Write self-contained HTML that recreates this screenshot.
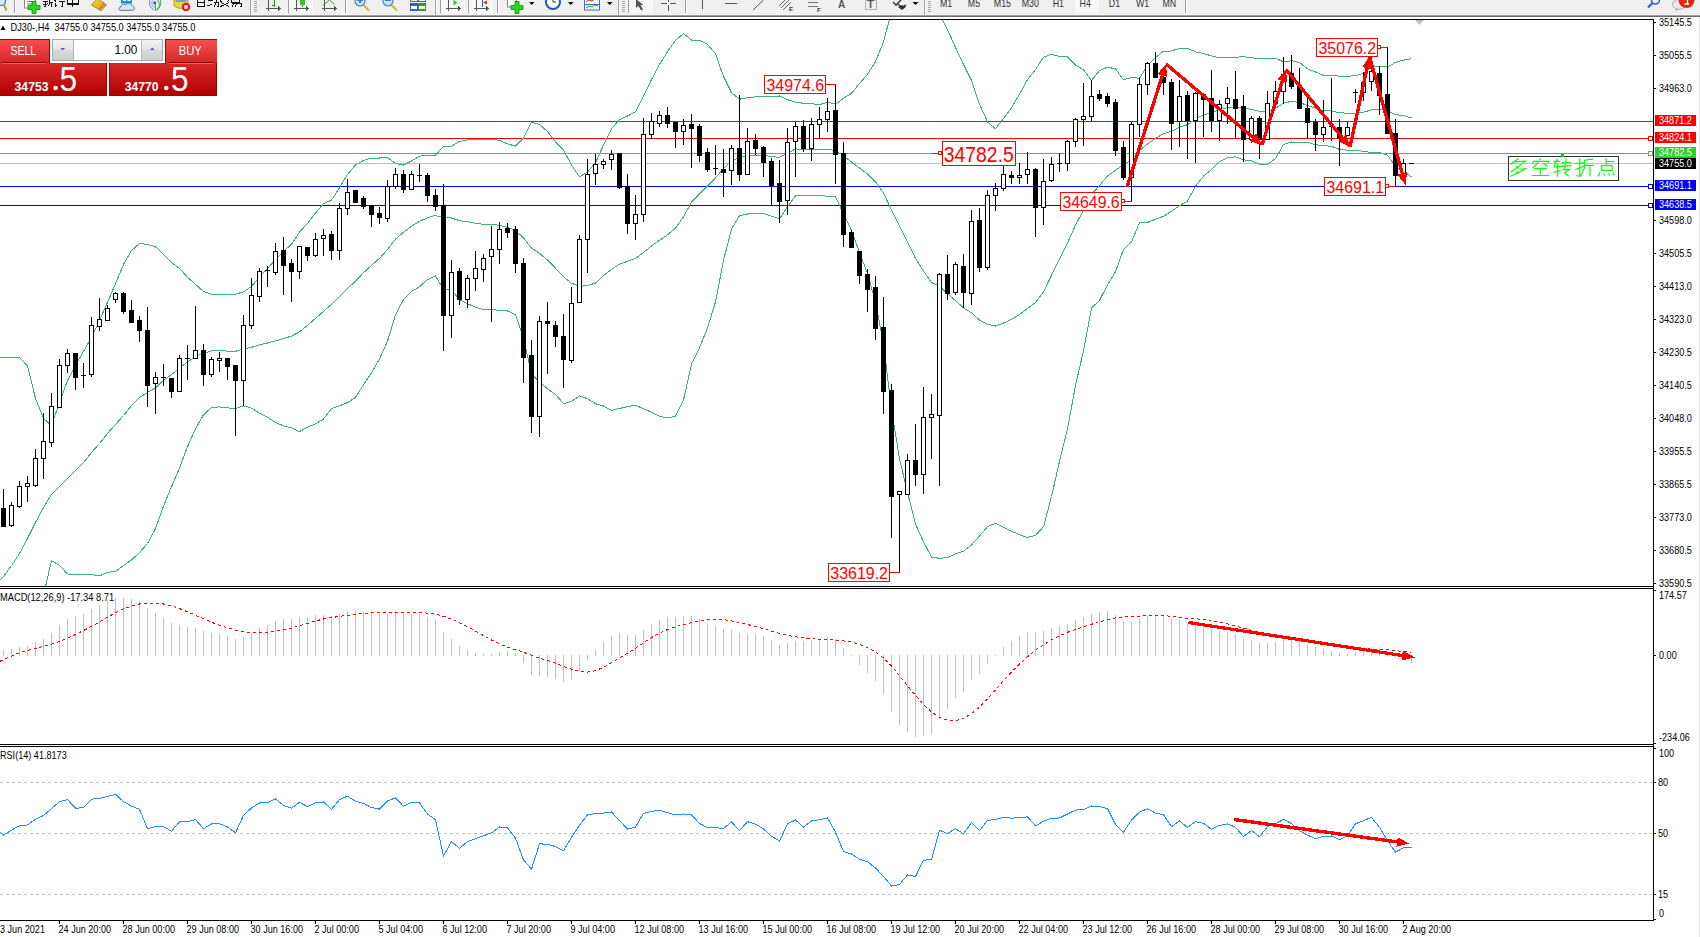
<!DOCTYPE html><html><head><meta charset="utf-8"><style>html,body{margin:0;padding:0;width:1700px;height:937px;overflow:hidden;background:#fff;}svg text{font-family:"Liberation Sans",sans-serif;}</style></head><body><svg width="1700" height="937" viewBox="0 0 1700 937" style="position:absolute;left:0;top:0" font-family="Liberation Sans, sans-serif">
<rect x="0" y="0" width="1700" height="937" fill="#ffffff"/>
<defs><clipPath id="cm"><rect x="0" y="20" width="1653" height="566"/></clipPath><clipPath id="cmacd"><rect x="0" y="589" width="1653" height="155"/></clipPath><clipPath id="crsi"><rect x="0" y="747" width="1653" height="173"/></clipPath></defs>
<g clip-path="url(#cm)" shape-rendering="crispEdges">
<rect x="0" y="121" width="1653" height="1" fill="#ff0000"/>
<rect x="0" y="138" width="1653" height="1" fill="#ff0000"/>
<rect x="0" y="153" width="1653" height="1" fill="#32cd32"/>
<rect x="0" y="163" width="1653" height="1" fill="#c0c0c0"/>
<rect x="0" y="186" width="1653" height="1" fill="#0000ff"/>
<rect x="0" y="205" width="1653" height="1" fill="#0000ff"/>
<polyline points="0.0,357.3 3.5,357.5 11.5,357.1 19.5,357.3 27.5,366.1 35.5,398.5 43.5,418.5 51.5,425.5 59.5,402.5 67.5,380.5 75.5,365.5 83.5,351.5 91.5,337.5 99.5,320.5 107.5,302.5 115.5,283.5 123.5,264.5 131.5,250.5 139.5,243.5 147.5,244.5 155.5,246.8 163.5,254.5 171.5,262.4 179.5,268.4 187.5,277.3 195.5,284.3 203.5,291.6 211.5,294.2 219.5,294.1 227.5,294.4 235.5,294.2 243.5,291.8 251.5,286.5 259.5,276.6 267.5,268.9 275.5,259.3 283.5,251.4 291.5,244.2 299.5,232.1 307.5,223.5 315.5,213.0 323.5,203.7 331.5,200.1 339.5,187.8 347.5,174.4 355.5,164.9 363.5,160.5 371.5,158.0 379.5,158.0 387.5,157.5 395.5,163.5 403.5,165.0 411.5,161.0 419.5,156.1 427.5,155.6 435.5,155.1 443.5,146.4 451.5,146.3 459.5,141.4 467.5,140.0 475.5,139.2 483.5,139.1 491.5,139.1 499.5,140.5 507.5,143.8 515.5,146.2 523.5,138.1 531.5,122.3 539.5,124.4 547.5,131.6 555.5,141.9 563.5,149.9 571.5,165.0 579.5,176.9 587.5,172.0 595.5,162.8 603.5,145.1 611.5,128.9 619.5,119.6 627.5,116.0 635.5,111.9 643.5,96.1 651.5,79.6 659.5,64.4 667.5,51.8 675.5,40.3 683.5,33.5 691.5,40.1 699.5,40.3 707.5,44.4 715.5,53.8 723.5,76.6 731.5,92.6 739.5,99.2 747.5,97.7 755.5,96.9 763.5,96.9 771.5,97.0 779.5,96.0 787.5,99.7 795.5,102.1 803.5,103.3 811.5,103.8 819.5,104.6 827.5,102.3 835.5,104.1 843.5,98.3 851.5,93.3 859.5,83.5 867.5,74.2 875.5,61.6 883.5,42.0 891.5,11.3 899.5,-6.6 907.5,-8.3 915.5,-7.5 923.5,0.4 931.5,8.0 939.5,14.1 947.5,29.8 955.5,47.5 963.5,64.5 971.5,80.5 979.5,104.1 987.5,121.9 995.5,128.8 1003.5,118.6 1011.5,107.8 1019.5,94.3 1027.5,79.6 1035.5,69.6 1043.5,57.2 1051.5,54.2 1059.5,56.5 1067.5,57.0 1075.5,65.0 1083.5,69.7 1091.5,80.5 1099.5,70.6 1107.5,67.1 1115.5,68.9 1123.5,79.8 1131.5,77.5 1139.5,78.3 1147.5,65.5 1155.5,57.6 1163.5,51.3 1171.5,51.0 1179.5,48.4 1187.5,48.4 1195.5,51.8 1203.5,53.7 1211.5,55.8 1219.5,57.8 1227.5,57.5 1235.5,57.3 1243.5,56.6 1251.5,57.8 1259.5,58.5 1267.5,58.5 1275.5,58.1 1283.5,62.0 1291.5,60.7 1299.5,62.5 1307.5,68.9 1315.5,72.0 1323.5,75.4 1331.5,75.3 1339.5,76.2 1347.5,76.1 1355.5,75.9 1363.5,73.1 1371.5,67.1 1379.5,66.2 1387.5,67.1 1395.5,62.3 1403.5,60.2 1411.5,58.7" fill="none" stroke="#3cb371" stroke-width="1"/>
<polyline points="0.0,580.0 3.5,576.5 11.5,565.5 19.5,553.5 27.5,538.5 35.5,522.5 43.5,507.5 51.5,494.5 59.5,486.5 67.5,478.5 75.5,470.5 83.5,462.5 91.5,452.5 99.5,443.5 107.5,433.5 115.5,424.5 123.5,415.5 131.5,405.5 139.5,397.5 147.5,392.5 155.5,387.8 163.5,380.3 171.5,374.6 179.5,368.2 187.5,361.9 195.5,356.6 203.5,353.2 211.5,350.9 219.5,350.5 227.5,351.1 235.5,351.3 243.5,348.8 251.5,347.3 259.5,344.9 267.5,343.0 275.5,340.9 283.5,338.6 291.5,336.1 299.5,331.9 307.5,325.4 315.5,318.4 323.5,311.4 331.5,304.3 339.5,296.8 347.5,288.5 355.5,281.1 363.5,272.7 371.5,265.4 379.5,258.4 387.5,249.4 395.5,239.1 403.5,232.3 411.5,226.2 419.5,221.4 427.5,217.7 435.5,215.4 443.5,217.9 451.5,218.0 459.5,220.7 467.5,221.8 475.5,223.2 483.5,224.4 491.5,224.3 499.5,225.4 507.5,227.4 515.5,230.4 523.5,238.0 531.5,248.1 539.5,253.3 547.5,260.1 555.5,268.2 563.5,276.8 571.5,283.2 579.5,286.4 587.5,285.4 595.5,283.2 603.5,275.6 611.5,269.6 619.5,264.1 627.5,261.3 635.5,258.6 643.5,252.4 651.5,246.0 659.5,240.3 667.5,234.8 675.5,228.2 683.5,216.7 691.5,202.2 699.5,193.9 707.5,186.2 715.5,177.8 723.5,168.5 731.5,160.8 739.5,157.5 747.5,155.8 755.5,155.1 763.5,155.1 771.5,156.7 779.5,157.3 787.5,153.3 795.5,148.9 803.5,149.6 811.5,149.8 819.5,149.9 827.5,149.3 835.5,150.5 843.5,155.9 851.5,161.9 859.5,167.9 867.5,173.9 875.5,181.9 883.5,192.8 891.5,210.2 899.5,226.1 907.5,242.1 915.5,258.4 923.5,271.1 931.5,282.6 939.5,286.2 947.5,293.8 955.5,300.6 963.5,307.9 971.5,312.7 979.5,320.1 987.5,324.3 995.5,326.0 1003.5,323.0 1011.5,319.5 1019.5,314.5 1027.5,308.5 1035.5,302.4 1043.5,291.9 1051.5,275.4 1059.5,258.9 1067.5,243.0 1075.5,225.2 1083.5,210.2 1091.5,194.3 1099.5,185.5 1107.5,176.0 1115.5,170.3 1123.5,164.6 1131.5,159.7 1139.5,150.6 1147.5,143.9 1155.5,138.4 1163.5,133.8 1171.5,131.1 1179.5,127.2 1187.5,124.7 1195.5,119.0 1203.5,114.9 1211.5,112.7 1219.5,109.8 1227.5,107.6 1235.5,107.0 1243.5,108.2 1251.5,109.3 1259.5,111.3 1267.5,111.3 1275.5,108.4 1283.5,103.2 1291.5,101.3 1299.5,102.5 1307.5,105.5 1315.5,108.3 1323.5,110.6 1331.5,110.8 1339.5,112.8 1347.5,113.2 1355.5,113.1 1363.5,112.2 1371.5,109.8 1379.5,109.3 1387.5,111.1 1395.5,114.5 1403.5,115.7 1411.5,117.9" fill="none" stroke="#3cb371" stroke-width="1"/>
<polyline points="43.5,595.5 51.5,560.5 59.5,565.5 67.5,574.0 75.5,574.5 83.5,574.5 91.5,574.5 99.5,575.9 107.5,572.5 115.5,571.5 123.5,565.5 131.5,560.0 139.5,552.5 147.5,543.5 155.5,528.7 163.5,506.1 171.5,486.8 179.5,468.0 187.5,446.6 195.5,428.8 203.5,414.8 211.5,407.5 219.5,406.9 227.5,407.9 235.5,408.4 243.5,405.8 251.5,408.1 259.5,413.2 267.5,417.1 275.5,422.5 283.5,425.8 291.5,427.9 299.5,431.6 307.5,427.2 315.5,423.9 323.5,419.0 331.5,408.5 339.5,405.8 347.5,402.6 355.5,397.3 363.5,384.9 371.5,372.9 379.5,358.8 387.5,341.3 395.5,314.7 403.5,299.6 411.5,291.5 419.5,286.8 427.5,279.8 435.5,275.8 443.5,289.5 451.5,289.7 459.5,299.9 467.5,303.6 475.5,307.3 483.5,309.7 491.5,309.6 499.5,310.3 507.5,311.0 515.5,314.7 523.5,337.9 531.5,373.9 539.5,382.2 547.5,388.7 555.5,394.6 563.5,403.6 571.5,401.4 579.5,395.9 587.5,398.7 595.5,403.7 603.5,406.0 611.5,410.4 619.5,408.5 627.5,406.6 635.5,405.3 643.5,408.7 651.5,412.4 659.5,416.2 667.5,417.9 675.5,416.2 683.5,399.8 691.5,364.4 699.5,347.6 707.5,328.1 715.5,301.9 723.5,260.4 731.5,228.9 739.5,215.8 747.5,214.0 755.5,213.2 763.5,213.3 771.5,216.3 779.5,218.7 787.5,206.9 795.5,195.7 803.5,195.9 811.5,195.7 819.5,195.3 827.5,196.4 835.5,196.9 843.5,213.6 851.5,230.5 859.5,252.3 867.5,273.6 875.5,302.2 883.5,343.7 891.5,409.2 899.5,458.8 907.5,492.4 915.5,524.2 923.5,541.8 931.5,557.1 939.5,558.3 947.5,557.7 955.5,553.8 963.5,551.2 971.5,544.9 979.5,536.1 987.5,526.7 995.5,523.2 1003.5,527.4 1011.5,531.2 1019.5,534.7 1027.5,537.4 1035.5,535.3 1043.5,526.7 1051.5,496.5 1059.5,461.4 1067.5,429.0 1075.5,385.5 1083.5,350.7 1091.5,308.1 1099.5,300.4 1107.5,284.9 1115.5,271.7 1123.5,249.3 1131.5,241.9 1139.5,222.8 1147.5,222.4 1155.5,219.2 1163.5,216.3 1171.5,211.2 1179.5,205.9 1187.5,201.0 1195.5,186.2 1203.5,176.1 1211.5,169.6 1219.5,161.7 1227.5,157.7 1235.5,156.8 1243.5,159.8 1251.5,160.8 1259.5,164.2 1267.5,164.2 1275.5,158.7 1283.5,144.5 1291.5,142.0 1299.5,142.6 1307.5,142.1 1315.5,144.7 1323.5,145.8 1331.5,146.2 1339.5,149.4 1347.5,150.2 1355.5,150.3 1363.5,151.4 1371.5,152.5 1379.5,152.5 1387.5,155.1 1395.5,166.6 1403.5,171.1 1411.5,177.1" fill="none" stroke="#3cb371" stroke-width="1"/>
<rect x="3" y="489" width="1" height="38" fill="#000"/>
<rect x="1" y="508" width="5" height="19" fill="#000"/>
<rect x="11" y="502" width="1" height="25" fill="#000"/>
<rect x="9" y="505" width="5" height="21" fill="#000"/>
<rect x="10" y="506" width="3" height="19" fill="#fff"/>
<rect x="19" y="481" width="1" height="27" fill="#000"/>
<rect x="17" y="486" width="5" height="21" fill="#000"/>
<rect x="18" y="487" width="3" height="19" fill="#fff"/>
<rect x="27" y="476" width="1" height="26" fill="#000"/>
<rect x="25" y="483" width="5" height="4" fill="#000"/>
<rect x="26" y="484" width="3" height="2" fill="#fff"/>
<rect x="35" y="449" width="1" height="38" fill="#000"/>
<rect x="33" y="458" width="5" height="28" fill="#000"/>
<rect x="34" y="459" width="3" height="26" fill="#fff"/>
<rect x="43" y="413" width="1" height="66" fill="#000"/>
<rect x="41" y="441" width="5" height="18" fill="#000"/>
<rect x="42" y="442" width="3" height="16" fill="#fff"/>
<rect x="51" y="393" width="1" height="54" fill="#000"/>
<rect x="49" y="406" width="5" height="37" fill="#000"/>
<rect x="50" y="407" width="3" height="35" fill="#fff"/>
<rect x="59" y="359" width="1" height="49" fill="#000"/>
<rect x="57" y="365" width="5" height="43" fill="#000"/>
<rect x="58" y="366" width="3" height="41" fill="#fff"/>
<rect x="67" y="349" width="1" height="24" fill="#000"/>
<rect x="65" y="353" width="5" height="13" fill="#000"/>
<rect x="66" y="354" width="3" height="11" fill="#fff"/>
<rect x="75" y="353" width="1" height="37" fill="#000"/>
<rect x="73" y="353" width="5" height="25" fill="#000"/>
<rect x="83" y="363" width="1" height="25" fill="#000"/>
<rect x="81" y="375" width="5" height="1" fill="#000"/>
<rect x="91" y="317" width="1" height="60" fill="#000"/>
<rect x="89" y="325" width="5" height="50" fill="#000"/>
<rect x="90" y="326" width="3" height="48" fill="#fff"/>
<rect x="99" y="298" width="1" height="33" fill="#000"/>
<rect x="97" y="319" width="5" height="8" fill="#000"/>
<rect x="98" y="320" width="3" height="6" fill="#fff"/>
<rect x="107" y="305" width="1" height="16" fill="#000"/>
<rect x="105" y="308" width="5" height="13" fill="#000"/>
<rect x="106" y="309" width="3" height="11" fill="#fff"/>
<rect x="115" y="292" width="1" height="11" fill="#000"/>
<rect x="113" y="293" width="5" height="7" fill="#000"/>
<rect x="114" y="294" width="3" height="5" fill="#fff"/>
<rect x="123" y="292" width="1" height="22" fill="#000"/>
<rect x="121" y="293" width="5" height="19" fill="#000"/>
<rect x="131" y="300" width="1" height="23" fill="#000"/>
<rect x="129" y="310" width="5" height="13" fill="#000"/>
<rect x="139" y="316" width="1" height="26" fill="#000"/>
<rect x="137" y="320" width="5" height="11" fill="#000"/>
<rect x="147" y="307" width="1" height="100" fill="#000"/>
<rect x="145" y="330" width="5" height="56" fill="#000"/>
<rect x="155" y="372" width="1" height="42" fill="#000"/>
<rect x="153" y="377" width="5" height="7" fill="#000"/>
<rect x="154" y="378" width="3" height="5" fill="#fff"/>
<rect x="163" y="364" width="1" height="22" fill="#000"/>
<rect x="161" y="377" width="5" height="1" fill="#000"/>
<rect x="171" y="378" width="1" height="20" fill="#000"/>
<rect x="169" y="378" width="5" height="14" fill="#000"/>
<rect x="179" y="355" width="1" height="37" fill="#000"/>
<rect x="177" y="358" width="5" height="34" fill="#000"/>
<rect x="178" y="359" width="3" height="32" fill="#fff"/>
<rect x="187" y="345" width="1" height="35" fill="#000"/>
<rect x="185" y="358" width="5" height="1" fill="#000"/>
<rect x="195" y="306" width="1" height="53" fill="#000"/>
<rect x="193" y="350" width="5" height="9" fill="#000"/>
<rect x="194" y="351" width="3" height="7" fill="#fff"/>
<rect x="203" y="344" width="1" height="42" fill="#000"/>
<rect x="201" y="350" width="5" height="25" fill="#000"/>
<rect x="211" y="357" width="1" height="20" fill="#000"/>
<rect x="209" y="359" width="5" height="16" fill="#000"/>
<rect x="210" y="360" width="3" height="14" fill="#fff"/>
<rect x="219" y="352" width="1" height="20" fill="#000"/>
<rect x="217" y="358" width="5" height="3" fill="#000"/>
<rect x="218" y="359" width="3" height="1" fill="#fff"/>
<rect x="227" y="358" width="1" height="22" fill="#000"/>
<rect x="225" y="358" width="5" height="9" fill="#000"/>
<rect x="235" y="365" width="1" height="71" fill="#000"/>
<rect x="233" y="365" width="5" height="16" fill="#000"/>
<rect x="243" y="315" width="1" height="91" fill="#000"/>
<rect x="241" y="325" width="5" height="56" fill="#000"/>
<rect x="242" y="326" width="3" height="54" fill="#fff"/>
<rect x="251" y="278" width="1" height="51" fill="#000"/>
<rect x="249" y="295" width="5" height="31" fill="#000"/>
<rect x="250" y="296" width="3" height="29" fill="#fff"/>
<rect x="259" y="268" width="1" height="34" fill="#000"/>
<rect x="257" y="271" width="5" height="26" fill="#000"/>
<rect x="258" y="272" width="3" height="24" fill="#fff"/>
<rect x="267" y="266" width="1" height="21" fill="#000"/>
<rect x="265" y="270" width="5" height="1" fill="#000"/>
<rect x="275" y="243" width="1" height="32" fill="#000"/>
<rect x="273" y="251" width="5" height="22" fill="#000"/>
<rect x="274" y="252" width="3" height="20" fill="#fff"/>
<rect x="283" y="237" width="1" height="58" fill="#000"/>
<rect x="281" y="250" width="5" height="16" fill="#000"/>
<rect x="291" y="259" width="1" height="43" fill="#000"/>
<rect x="289" y="263" width="5" height="9" fill="#000"/>
<rect x="299" y="246" width="1" height="33" fill="#000"/>
<rect x="297" y="246" width="5" height="26" fill="#000"/>
<rect x="298" y="247" width="3" height="24" fill="#fff"/>
<rect x="307" y="247" width="1" height="14" fill="#000"/>
<rect x="305" y="247" width="5" height="9" fill="#000"/>
<rect x="315" y="233" width="1" height="24" fill="#000"/>
<rect x="313" y="239" width="5" height="17" fill="#000"/>
<rect x="314" y="240" width="3" height="15" fill="#fff"/>
<rect x="323" y="229" width="1" height="27" fill="#000"/>
<rect x="321" y="235" width="5" height="4" fill="#000"/>
<rect x="322" y="236" width="3" height="2" fill="#fff"/>
<rect x="331" y="231" width="1" height="29" fill="#000"/>
<rect x="329" y="234" width="5" height="17" fill="#000"/>
<rect x="339" y="203" width="1" height="57" fill="#000"/>
<rect x="337" y="208" width="5" height="43" fill="#000"/>
<rect x="338" y="209" width="3" height="41" fill="#fff"/>
<rect x="347" y="179" width="1" height="36" fill="#000"/>
<rect x="345" y="192" width="5" height="17" fill="#000"/>
<rect x="346" y="193" width="3" height="15" fill="#fff"/>
<rect x="355" y="190" width="1" height="13" fill="#000"/>
<rect x="353" y="190" width="5" height="13" fill="#000"/>
<rect x="363" y="196" width="1" height="13" fill="#000"/>
<rect x="361" y="198" width="5" height="9" fill="#000"/>
<rect x="371" y="205" width="1" height="22" fill="#000"/>
<rect x="369" y="205" width="5" height="10" fill="#000"/>
<rect x="379" y="207" width="1" height="17" fill="#000"/>
<rect x="377" y="213" width="5" height="5" fill="#000"/>
<rect x="387" y="180" width="1" height="42" fill="#000"/>
<rect x="385" y="186" width="5" height="33" fill="#000"/>
<rect x="386" y="187" width="3" height="31" fill="#fff"/>
<rect x="395" y="168" width="1" height="21" fill="#000"/>
<rect x="393" y="174" width="5" height="13" fill="#000"/>
<rect x="394" y="175" width="3" height="11" fill="#fff"/>
<rect x="403" y="170" width="1" height="23" fill="#000"/>
<rect x="401" y="174" width="5" height="16" fill="#000"/>
<rect x="411" y="171" width="1" height="19" fill="#000"/>
<rect x="409" y="174" width="5" height="16" fill="#000"/>
<rect x="410" y="175" width="3" height="14" fill="#fff"/>
<rect x="419" y="164" width="1" height="18" fill="#000"/>
<rect x="417" y="175" width="5" height="1" fill="#000"/>
<rect x="427" y="173" width="1" height="29" fill="#000"/>
<rect x="425" y="175" width="5" height="21" fill="#000"/>
<rect x="435" y="189" width="1" height="22" fill="#000"/>
<rect x="433" y="195" width="5" height="12" fill="#000"/>
<rect x="443" y="184" width="1" height="167" fill="#000"/>
<rect x="441" y="205" width="5" height="111" fill="#000"/>
<rect x="451" y="260" width="1" height="78" fill="#000"/>
<rect x="449" y="272" width="5" height="44" fill="#000"/>
<rect x="450" y="273" width="3" height="42" fill="#fff"/>
<rect x="459" y="268" width="1" height="37" fill="#000"/>
<rect x="457" y="271" width="5" height="29" fill="#000"/>
<rect x="467" y="275" width="1" height="33" fill="#000"/>
<rect x="465" y="278" width="5" height="22" fill="#000"/>
<rect x="466" y="279" width="3" height="20" fill="#fff"/>
<rect x="475" y="251" width="1" height="40" fill="#000"/>
<rect x="473" y="268" width="5" height="11" fill="#000"/>
<rect x="474" y="269" width="3" height="9" fill="#fff"/>
<rect x="483" y="254" width="1" height="28" fill="#000"/>
<rect x="481" y="258" width="5" height="12" fill="#000"/>
<rect x="482" y="259" width="3" height="10" fill="#fff"/>
<rect x="491" y="226" width="1" height="96" fill="#000"/>
<rect x="489" y="249" width="5" height="8" fill="#000"/>
<rect x="490" y="250" width="3" height="6" fill="#fff"/>
<rect x="499" y="222" width="1" height="42" fill="#000"/>
<rect x="497" y="229" width="5" height="21" fill="#000"/>
<rect x="498" y="230" width="3" height="19" fill="#fff"/>
<rect x="507" y="223" width="1" height="15" fill="#000"/>
<rect x="505" y="228" width="5" height="5" fill="#000"/>
<rect x="515" y="226" width="1" height="47" fill="#000"/>
<rect x="513" y="229" width="5" height="35" fill="#000"/>
<rect x="523" y="258" width="1" height="125" fill="#000"/>
<rect x="521" y="263" width="5" height="95" fill="#000"/>
<rect x="531" y="340" width="1" height="93" fill="#000"/>
<rect x="529" y="355" width="5" height="62" fill="#000"/>
<rect x="539" y="316" width="1" height="121" fill="#000"/>
<rect x="537" y="321" width="5" height="96" fill="#000"/>
<rect x="538" y="322" width="3" height="94" fill="#fff"/>
<rect x="547" y="302" width="1" height="72" fill="#000"/>
<rect x="545" y="321" width="5" height="3" fill="#000"/>
<rect x="555" y="321" width="1" height="26" fill="#000"/>
<rect x="553" y="325" width="5" height="12" fill="#000"/>
<rect x="563" y="314" width="1" height="74" fill="#000"/>
<rect x="561" y="336" width="5" height="24" fill="#000"/>
<rect x="571" y="287" width="1" height="76" fill="#000"/>
<rect x="569" y="303" width="5" height="58" fill="#000"/>
<rect x="570" y="304" width="3" height="56" fill="#fff"/>
<rect x="579" y="235" width="1" height="68" fill="#000"/>
<rect x="577" y="239" width="5" height="64" fill="#000"/>
<rect x="578" y="240" width="3" height="62" fill="#fff"/>
<rect x="587" y="159" width="1" height="114" fill="#000"/>
<rect x="585" y="174" width="5" height="66" fill="#000"/>
<rect x="586" y="175" width="3" height="64" fill="#fff"/>
<rect x="595" y="154" width="1" height="31" fill="#000"/>
<rect x="593" y="164" width="5" height="10" fill="#000"/>
<rect x="594" y="165" width="3" height="8" fill="#fff"/>
<rect x="603" y="159" width="1" height="10" fill="#000"/>
<rect x="601" y="161" width="5" height="4" fill="#000"/>
<rect x="602" y="162" width="3" height="2" fill="#fff"/>
<rect x="611" y="150" width="1" height="20" fill="#000"/>
<rect x="609" y="154" width="5" height="6" fill="#000"/>
<rect x="610" y="155" width="3" height="4" fill="#fff"/>
<rect x="619" y="153" width="1" height="36" fill="#000"/>
<rect x="617" y="153" width="5" height="35" fill="#000"/>
<rect x="627" y="174" width="1" height="60" fill="#000"/>
<rect x="625" y="186" width="5" height="38" fill="#000"/>
<rect x="635" y="195" width="1" height="45" fill="#000"/>
<rect x="633" y="214" width="5" height="10" fill="#000"/>
<rect x="634" y="215" width="3" height="8" fill="#fff"/>
<rect x="643" y="118" width="1" height="104" fill="#000"/>
<rect x="641" y="134" width="5" height="81" fill="#000"/>
<rect x="642" y="135" width="3" height="79" fill="#fff"/>
<rect x="651" y="113" width="1" height="26" fill="#000"/>
<rect x="649" y="121" width="5" height="14" fill="#000"/>
<rect x="650" y="122" width="3" height="12" fill="#fff"/>
<rect x="659" y="111" width="1" height="16" fill="#000"/>
<rect x="657" y="115" width="5" height="9" fill="#000"/>
<rect x="658" y="116" width="3" height="7" fill="#fff"/>
<rect x="667" y="107" width="1" height="21" fill="#000"/>
<rect x="665" y="115" width="5" height="9" fill="#000"/>
<rect x="675" y="122" width="1" height="26" fill="#000"/>
<rect x="673" y="122" width="5" height="10" fill="#000"/>
<rect x="683" y="119" width="1" height="26" fill="#000"/>
<rect x="681" y="125" width="5" height="7" fill="#000"/>
<rect x="682" y="126" width="3" height="5" fill="#fff"/>
<rect x="691" y="114" width="1" height="54" fill="#000"/>
<rect x="689" y="124" width="5" height="5" fill="#000"/>
<rect x="699" y="124" width="1" height="38" fill="#000"/>
<rect x="697" y="126" width="5" height="30" fill="#000"/>
<rect x="707" y="148" width="1" height="24" fill="#000"/>
<rect x="705" y="152" width="5" height="18" fill="#000"/>
<rect x="715" y="145" width="1" height="30" fill="#000"/>
<rect x="713" y="168" width="5" height="1" fill="#000"/>
<rect x="723" y="149" width="1" height="48" fill="#000"/>
<rect x="721" y="169" width="5" height="4" fill="#000"/>
<rect x="731" y="145" width="1" height="40" fill="#000"/>
<rect x="729" y="148" width="5" height="23" fill="#000"/>
<rect x="730" y="149" width="3" height="21" fill="#fff"/>
<rect x="739" y="95" width="1" height="86" fill="#000"/>
<rect x="737" y="148" width="5" height="27" fill="#000"/>
<rect x="747" y="128" width="1" height="47" fill="#000"/>
<rect x="745" y="141" width="5" height="34" fill="#000"/>
<rect x="746" y="142" width="3" height="32" fill="#fff"/>
<rect x="755" y="134" width="1" height="21" fill="#000"/>
<rect x="753" y="140" width="5" height="9" fill="#000"/>
<rect x="763" y="146" width="1" height="31" fill="#000"/>
<rect x="761" y="147" width="5" height="16" fill="#000"/>
<rect x="771" y="158" width="1" height="48" fill="#000"/>
<rect x="769" y="161" width="5" height="25" fill="#000"/>
<rect x="779" y="160" width="1" height="63" fill="#000"/>
<rect x="777" y="183" width="5" height="19" fill="#000"/>
<rect x="787" y="128" width="1" height="87" fill="#000"/>
<rect x="785" y="142" width="5" height="59" fill="#000"/>
<rect x="786" y="143" width="3" height="57" fill="#fff"/>
<rect x="795" y="121" width="1" height="56" fill="#000"/>
<rect x="793" y="126" width="5" height="16" fill="#000"/>
<rect x="794" y="127" width="3" height="14" fill="#fff"/>
<rect x="803" y="120" width="1" height="32" fill="#000"/>
<rect x="801" y="126" width="5" height="23" fill="#000"/>
<rect x="811" y="118" width="1" height="43" fill="#000"/>
<rect x="809" y="124" width="5" height="25" fill="#000"/>
<rect x="810" y="125" width="3" height="23" fill="#fff"/>
<rect x="819" y="107" width="1" height="32" fill="#000"/>
<rect x="817" y="119" width="5" height="6" fill="#000"/>
<rect x="818" y="120" width="3" height="4" fill="#fff"/>
<rect x="827" y="98" width="1" height="34" fill="#000"/>
<rect x="825" y="111" width="5" height="9" fill="#000"/>
<rect x="826" y="112" width="3" height="7" fill="#fff"/>
<rect x="835" y="84" width="1" height="100" fill="#000"/>
<rect x="833" y="110" width="5" height="45" fill="#000"/>
<rect x="843" y="142" width="1" height="105" fill="#000"/>
<rect x="841" y="153" width="5" height="82" fill="#000"/>
<rect x="851" y="230" width="1" height="18" fill="#000"/>
<rect x="849" y="232" width="5" height="16" fill="#000"/>
<rect x="859" y="251" width="1" height="33" fill="#000"/>
<rect x="857" y="251" width="5" height="25" fill="#000"/>
<rect x="867" y="269" width="1" height="43" fill="#000"/>
<rect x="865" y="274" width="5" height="16" fill="#000"/>
<rect x="875" y="276" width="1" height="64" fill="#000"/>
<rect x="873" y="287" width="5" height="42" fill="#000"/>
<rect x="883" y="297" width="1" height="117" fill="#000"/>
<rect x="881" y="327" width="5" height="65" fill="#000"/>
<rect x="891" y="384" width="1" height="154" fill="#000"/>
<rect x="889" y="390" width="5" height="107" fill="#000"/>
<rect x="899" y="491" width="1" height="82" fill="#000"/>
<rect x="897" y="491" width="5" height="4" fill="#000"/>
<rect x="898" y="492" width="3" height="2" fill="#fff"/>
<rect x="907" y="454" width="1" height="41" fill="#000"/>
<rect x="905" y="460" width="5" height="35" fill="#000"/>
<rect x="906" y="461" width="3" height="33" fill="#fff"/>
<rect x="915" y="424" width="1" height="62" fill="#000"/>
<rect x="913" y="460" width="5" height="15" fill="#000"/>
<rect x="923" y="387" width="1" height="107" fill="#000"/>
<rect x="921" y="417" width="5" height="58" fill="#000"/>
<rect x="922" y="418" width="3" height="56" fill="#fff"/>
<rect x="931" y="394" width="1" height="65" fill="#000"/>
<rect x="929" y="414" width="5" height="4" fill="#000"/>
<rect x="930" y="415" width="3" height="2" fill="#fff"/>
<rect x="939" y="273" width="1" height="213" fill="#000"/>
<rect x="937" y="274" width="5" height="142" fill="#000"/>
<rect x="938" y="275" width="3" height="140" fill="#fff"/>
<rect x="947" y="255" width="1" height="45" fill="#000"/>
<rect x="945" y="274" width="5" height="20" fill="#000"/>
<rect x="955" y="262" width="1" height="33" fill="#000"/>
<rect x="953" y="264" width="5" height="29" fill="#000"/>
<rect x="954" y="265" width="3" height="27" fill="#fff"/>
<rect x="963" y="254" width="1" height="54" fill="#000"/>
<rect x="961" y="266" width="5" height="27" fill="#000"/>
<rect x="971" y="210" width="1" height="95" fill="#000"/>
<rect x="969" y="221" width="5" height="73" fill="#000"/>
<rect x="970" y="222" width="3" height="71" fill="#fff"/>
<rect x="979" y="208" width="1" height="64" fill="#000"/>
<rect x="977" y="220" width="5" height="48" fill="#000"/>
<rect x="987" y="190" width="1" height="80" fill="#000"/>
<rect x="985" y="195" width="5" height="73" fill="#000"/>
<rect x="986" y="196" width="3" height="71" fill="#fff"/>
<rect x="995" y="183" width="1" height="28" fill="#000"/>
<rect x="993" y="188" width="5" height="8" fill="#000"/>
<rect x="994" y="189" width="3" height="6" fill="#fff"/>
<rect x="1003" y="166" width="1" height="25" fill="#000"/>
<rect x="1001" y="174" width="5" height="15" fill="#000"/>
<rect x="1002" y="175" width="3" height="13" fill="#fff"/>
<rect x="1011" y="171" width="1" height="13" fill="#000"/>
<rect x="1009" y="175" width="5" height="3" fill="#000"/>
<rect x="1019" y="163" width="1" height="21" fill="#000"/>
<rect x="1017" y="175" width="5" height="3" fill="#000"/>
<rect x="1018" y="176" width="3" height="1" fill="#fff"/>
<rect x="1027" y="152" width="1" height="32" fill="#000"/>
<rect x="1025" y="169" width="5" height="6" fill="#000"/>
<rect x="1026" y="170" width="3" height="4" fill="#fff"/>
<rect x="1035" y="168" width="1" height="69" fill="#000"/>
<rect x="1033" y="169" width="5" height="39" fill="#000"/>
<rect x="1043" y="159" width="1" height="66" fill="#000"/>
<rect x="1041" y="181" width="5" height="27" fill="#000"/>
<rect x="1042" y="182" width="3" height="25" fill="#fff"/>
<rect x="1051" y="157" width="1" height="25" fill="#000"/>
<rect x="1049" y="164" width="5" height="17" fill="#000"/>
<rect x="1050" y="165" width="3" height="15" fill="#fff"/>
<rect x="1059" y="153" width="1" height="19" fill="#000"/>
<rect x="1057" y="163" width="5" height="1" fill="#000"/>
<rect x="1067" y="140" width="1" height="31" fill="#000"/>
<rect x="1065" y="141" width="5" height="23" fill="#000"/>
<rect x="1066" y="142" width="3" height="21" fill="#fff"/>
<rect x="1075" y="118" width="1" height="29" fill="#000"/>
<rect x="1073" y="119" width="5" height="23" fill="#000"/>
<rect x="1074" y="120" width="3" height="21" fill="#fff"/>
<rect x="1083" y="83" width="1" height="63" fill="#000"/>
<rect x="1081" y="116" width="5" height="4" fill="#000"/>
<rect x="1082" y="117" width="3" height="2" fill="#fff"/>
<rect x="1091" y="80" width="1" height="42" fill="#000"/>
<rect x="1089" y="96" width="5" height="21" fill="#000"/>
<rect x="1090" y="97" width="3" height="19" fill="#fff"/>
<rect x="1099" y="90" width="1" height="11" fill="#000"/>
<rect x="1097" y="94" width="5" height="5" fill="#000"/>
<rect x="1107" y="93" width="1" height="14" fill="#000"/>
<rect x="1105" y="96" width="5" height="8" fill="#000"/>
<rect x="1115" y="99" width="1" height="57" fill="#000"/>
<rect x="1113" y="102" width="5" height="49" fill="#000"/>
<rect x="1123" y="141" width="1" height="39" fill="#000"/>
<rect x="1121" y="147" width="5" height="31" fill="#000"/>
<rect x="1131" y="121" width="1" height="81" fill="#000"/>
<rect x="1129" y="124" width="5" height="54" fill="#000"/>
<rect x="1130" y="125" width="3" height="52" fill="#fff"/>
<rect x="1139" y="78" width="1" height="59" fill="#000"/>
<rect x="1137" y="84" width="5" height="41" fill="#000"/>
<rect x="1138" y="85" width="3" height="39" fill="#fff"/>
<rect x="1147" y="62" width="1" height="33" fill="#000"/>
<rect x="1145" y="63" width="5" height="22" fill="#000"/>
<rect x="1146" y="64" width="3" height="20" fill="#fff"/>
<rect x="1155" y="52" width="1" height="26" fill="#000"/>
<rect x="1153" y="63" width="5" height="15" fill="#000"/>
<rect x="1163" y="77" width="1" height="18" fill="#000"/>
<rect x="1161" y="77" width="5" height="6" fill="#000"/>
<rect x="1171" y="79" width="1" height="71" fill="#000"/>
<rect x="1169" y="82" width="5" height="42" fill="#000"/>
<rect x="1179" y="80" width="1" height="67" fill="#000"/>
<rect x="1177" y="96" width="5" height="26" fill="#000"/>
<rect x="1178" y="97" width="3" height="24" fill="#fff"/>
<rect x="1187" y="91" width="1" height="68" fill="#000"/>
<rect x="1185" y="95" width="5" height="26" fill="#000"/>
<rect x="1195" y="92" width="1" height="71" fill="#000"/>
<rect x="1193" y="93" width="5" height="28" fill="#000"/>
<rect x="1194" y="94" width="3" height="26" fill="#fff"/>
<rect x="1203" y="93" width="1" height="44" fill="#000"/>
<rect x="1201" y="94" width="5" height="6" fill="#000"/>
<rect x="1211" y="70" width="1" height="62" fill="#000"/>
<rect x="1209" y="98" width="5" height="23" fill="#000"/>
<rect x="1219" y="100" width="1" height="41" fill="#000"/>
<rect x="1217" y="104" width="5" height="17" fill="#000"/>
<rect x="1218" y="105" width="3" height="15" fill="#fff"/>
<rect x="1227" y="87" width="1" height="37" fill="#000"/>
<rect x="1225" y="98" width="5" height="6" fill="#000"/>
<rect x="1226" y="99" width="3" height="4" fill="#fff"/>
<rect x="1235" y="71" width="1" height="67" fill="#000"/>
<rect x="1233" y="99" width="5" height="10" fill="#000"/>
<rect x="1243" y="95" width="1" height="67" fill="#000"/>
<rect x="1241" y="106" width="5" height="34" fill="#000"/>
<rect x="1251" y="116" width="1" height="27" fill="#000"/>
<rect x="1249" y="118" width="5" height="22" fill="#000"/>
<rect x="1250" y="119" width="3" height="20" fill="#fff"/>
<rect x="1259" y="116" width="1" height="43" fill="#000"/>
<rect x="1257" y="118" width="5" height="22" fill="#000"/>
<rect x="1267" y="91" width="1" height="49" fill="#000"/>
<rect x="1265" y="103" width="5" height="37" fill="#000"/>
<rect x="1266" y="104" width="3" height="35" fill="#fff"/>
<rect x="1275" y="81" width="1" height="24" fill="#000"/>
<rect x="1273" y="91" width="5" height="13" fill="#000"/>
<rect x="1274" y="92" width="3" height="11" fill="#fff"/>
<rect x="1283" y="57" width="1" height="47" fill="#000"/>
<rect x="1281" y="74" width="5" height="18" fill="#000"/>
<rect x="1282" y="75" width="3" height="16" fill="#fff"/>
<rect x="1291" y="55" width="1" height="34" fill="#000"/>
<rect x="1289" y="73" width="5" height="14" fill="#000"/>
<rect x="1299" y="68" width="1" height="41" fill="#000"/>
<rect x="1297" y="85" width="5" height="24" fill="#000"/>
<rect x="1307" y="97" width="1" height="41" fill="#000"/>
<rect x="1305" y="108" width="5" height="15" fill="#000"/>
<rect x="1315" y="119" width="1" height="32" fill="#000"/>
<rect x="1313" y="122" width="5" height="13" fill="#000"/>
<rect x="1323" y="100" width="1" height="42" fill="#000"/>
<rect x="1321" y="127" width="5" height="8" fill="#000"/>
<rect x="1322" y="128" width="3" height="6" fill="#fff"/>
<rect x="1331" y="78" width="1" height="63" fill="#000"/>
<rect x="1329" y="126" width="5" height="1" fill="#000"/>
<rect x="1339" y="119" width="1" height="47" fill="#000"/>
<rect x="1337" y="127" width="5" height="11" fill="#000"/>
<rect x="1347" y="122" width="1" height="14" fill="#000"/>
<rect x="1345" y="127" width="5" height="9" fill="#000"/>
<rect x="1346" y="128" width="3" height="7" fill="#fff"/>
<rect x="1355" y="89" width="1" height="14" fill="#000"/>
<rect x="1353" y="92" width="5" height="1" fill="#000"/>
<rect x="1363" y="72" width="1" height="29" fill="#000"/>
<rect x="1361" y="82" width="5" height="11" fill="#000"/>
<rect x="1362" y="83" width="3" height="9" fill="#fff"/>
<rect x="1371" y="57" width="1" height="34" fill="#000"/>
<rect x="1369" y="71" width="5" height="11" fill="#000"/>
<rect x="1370" y="72" width="3" height="9" fill="#fff"/>
<rect x="1379" y="66" width="1" height="49" fill="#000"/>
<rect x="1377" y="73" width="5" height="23" fill="#000"/>
<rect x="1387" y="47" width="1" height="87" fill="#000"/>
<rect x="1385" y="94" width="5" height="40" fill="#000"/>
<rect x="1395" y="119" width="1" height="68" fill="#000"/>
<rect x="1393" y="133" width="5" height="43" fill="#000"/>
<rect x="1403" y="159" width="1" height="15" fill="#000"/>
<rect x="1401" y="163" width="5" height="11" fill="#000"/>
<rect x="1402" y="164" width="3" height="9" fill="#fff"/>
<rect x="1411" y="163" width="1" height="1" fill="#000"/>
<rect x="1409" y="163" width="5" height="1" fill="#000"/>
</g>
<g clip-path="url(#cmacd)" shape-rendering="crispEdges">
<rect x="3" y="650" width="1" height="6" fill="#c0c0c0"/>
<rect x="11" y="649" width="1" height="7" fill="#c0c0c0"/>
<rect x="19" y="647" width="1" height="9" fill="#c0c0c0"/>
<rect x="27" y="646" width="1" height="10" fill="#c0c0c0"/>
<rect x="35" y="642" width="1" height="14" fill="#c0c0c0"/>
<rect x="43" y="639" width="1" height="17" fill="#c0c0c0"/>
<rect x="51" y="633" width="1" height="23" fill="#c0c0c0"/>
<rect x="59" y="625" width="1" height="31" fill="#c0c0c0"/>
<rect x="67" y="619" width="1" height="37" fill="#c0c0c0"/>
<rect x="75" y="616" width="1" height="40" fill="#c0c0c0"/>
<rect x="83" y="614" width="1" height="42" fill="#c0c0c0"/>
<rect x="91" y="609" width="1" height="47" fill="#c0c0c0"/>
<rect x="99" y="605" width="1" height="51" fill="#c0c0c0"/>
<rect x="107" y="601" width="1" height="55" fill="#c0c0c0"/>
<rect x="115" y="598" width="1" height="58" fill="#c0c0c0"/>
<rect x="123" y="598" width="1" height="58" fill="#c0c0c0"/>
<rect x="131" y="599" width="1" height="57" fill="#c0c0c0"/>
<rect x="139" y="601" width="1" height="55" fill="#c0c0c0"/>
<rect x="147" y="608" width="1" height="48" fill="#c0c0c0"/>
<rect x="155" y="613" width="1" height="43" fill="#c0c0c0"/>
<rect x="163" y="618" width="1" height="38" fill="#c0c0c0"/>
<rect x="171" y="623" width="1" height="33" fill="#c0c0c0"/>
<rect x="179" y="625" width="1" height="31" fill="#c0c0c0"/>
<rect x="187" y="627" width="1" height="29" fill="#c0c0c0"/>
<rect x="195" y="628" width="1" height="28" fill="#c0c0c0"/>
<rect x="203" y="631" width="1" height="25" fill="#c0c0c0"/>
<rect x="211" y="633" width="1" height="23" fill="#c0c0c0"/>
<rect x="219" y="634" width="1" height="22" fill="#c0c0c0"/>
<rect x="227" y="636" width="1" height="20" fill="#c0c0c0"/>
<rect x="235" y="639" width="1" height="17" fill="#c0c0c0"/>
<rect x="243" y="637" width="1" height="19" fill="#c0c0c0"/>
<rect x="251" y="633" width="1" height="23" fill="#c0c0c0"/>
<rect x="259" y="628" width="1" height="28" fill="#c0c0c0"/>
<rect x="267" y="625" width="1" height="31" fill="#c0c0c0"/>
<rect x="275" y="621" width="1" height="35" fill="#c0c0c0"/>
<rect x="283" y="619" width="1" height="37" fill="#c0c0c0"/>
<rect x="291" y="619" width="1" height="37" fill="#c0c0c0"/>
<rect x="299" y="617" width="1" height="39" fill="#c0c0c0"/>
<rect x="307" y="617" width="1" height="39" fill="#c0c0c0"/>
<rect x="315" y="615" width="1" height="41" fill="#c0c0c0"/>
<rect x="323" y="615" width="1" height="41" fill="#c0c0c0"/>
<rect x="331" y="616" width="1" height="40" fill="#c0c0c0"/>
<rect x="339" y="614" width="1" height="42" fill="#c0c0c0"/>
<rect x="347" y="611" width="1" height="45" fill="#c0c0c0"/>
<rect x="355" y="611" width="1" height="45" fill="#c0c0c0"/>
<rect x="363" y="611" width="1" height="45" fill="#c0c0c0"/>
<rect x="371" y="612" width="1" height="44" fill="#c0c0c0"/>
<rect x="379" y="614" width="1" height="42" fill="#c0c0c0"/>
<rect x="387" y="614" width="1" height="42" fill="#c0c0c0"/>
<rect x="395" y="613" width="1" height="43" fill="#c0c0c0"/>
<rect x="403" y="614" width="1" height="42" fill="#c0c0c0"/>
<rect x="411" y="614" width="1" height="42" fill="#c0c0c0"/>
<rect x="419" y="614" width="1" height="42" fill="#c0c0c0"/>
<rect x="427" y="617" width="1" height="39" fill="#c0c0c0"/>
<rect x="435" y="620" width="1" height="36" fill="#c0c0c0"/>
<rect x="443" y="632" width="1" height="24" fill="#c0c0c0"/>
<rect x="451" y="639" width="1" height="17" fill="#c0c0c0"/>
<rect x="459" y="646" width="1" height="10" fill="#c0c0c0"/>
<rect x="467" y="650" width="1" height="6" fill="#c0c0c0"/>
<rect x="475" y="653" width="1" height="3" fill="#c0c0c0"/>
<rect x="483" y="654" width="1" height="2" fill="#c0c0c0"/>
<rect x="491" y="654" width="1" height="2" fill="#c0c0c0"/>
<rect x="499" y="652" width="1" height="4" fill="#c0c0c0"/>
<rect x="507" y="651" width="1" height="5" fill="#c0c0c0"/>
<rect x="515" y="653" width="1" height="3" fill="#c0c0c0"/>
<rect x="523" y="655" width="1" height="8" fill="#c0c0c0"/>
<rect x="531" y="655" width="1" height="20" fill="#c0c0c0"/>
<rect x="539" y="655" width="1" height="21" fill="#c0c0c0"/>
<rect x="547" y="655" width="1" height="22" fill="#c0c0c0"/>
<rect x="555" y="655" width="1" height="24" fill="#c0c0c0"/>
<rect x="563" y="655" width="1" height="27" fill="#c0c0c0"/>
<rect x="571" y="655" width="1" height="25" fill="#c0c0c0"/>
<rect x="579" y="655" width="1" height="16" fill="#c0c0c0"/>
<rect x="587" y="655" width="1" height="5" fill="#c0c0c0"/>
<rect x="595" y="650" width="1" height="6" fill="#c0c0c0"/>
<rect x="603" y="642" width="1" height="14" fill="#c0c0c0"/>
<rect x="611" y="636" width="1" height="20" fill="#c0c0c0"/>
<rect x="619" y="633" width="1" height="23" fill="#c0c0c0"/>
<rect x="627" y="635" width="1" height="21" fill="#c0c0c0"/>
<rect x="635" y="635" width="1" height="21" fill="#c0c0c0"/>
<rect x="643" y="630" width="1" height="26" fill="#c0c0c0"/>
<rect x="651" y="624" width="1" height="32" fill="#c0c0c0"/>
<rect x="659" y="620" width="1" height="36" fill="#c0c0c0"/>
<rect x="667" y="617" width="1" height="39" fill="#c0c0c0"/>
<rect x="675" y="617" width="1" height="39" fill="#c0c0c0"/>
<rect x="683" y="616" width="1" height="40" fill="#c0c0c0"/>
<rect x="691" y="616" width="1" height="40" fill="#c0c0c0"/>
<rect x="699" y="619" width="1" height="37" fill="#c0c0c0"/>
<rect x="707" y="623" width="1" height="33" fill="#c0c0c0"/>
<rect x="715" y="626" width="1" height="30" fill="#c0c0c0"/>
<rect x="723" y="629" width="1" height="27" fill="#c0c0c0"/>
<rect x="731" y="630" width="1" height="26" fill="#c0c0c0"/>
<rect x="739" y="633" width="1" height="23" fill="#c0c0c0"/>
<rect x="747" y="634" width="1" height="22" fill="#c0c0c0"/>
<rect x="755" y="634" width="1" height="22" fill="#c0c0c0"/>
<rect x="763" y="636" width="1" height="20" fill="#c0c0c0"/>
<rect x="771" y="640" width="1" height="16" fill="#c0c0c0"/>
<rect x="779" y="645" width="1" height="11" fill="#c0c0c0"/>
<rect x="787" y="643" width="1" height="13" fill="#c0c0c0"/>
<rect x="795" y="641" width="1" height="15" fill="#c0c0c0"/>
<rect x="803" y="641" width="1" height="15" fill="#c0c0c0"/>
<rect x="811" y="640" width="1" height="16" fill="#c0c0c0"/>
<rect x="819" y="639" width="1" height="17" fill="#c0c0c0"/>
<rect x="827" y="637" width="1" height="19" fill="#c0c0c0"/>
<rect x="835" y="639" width="1" height="17" fill="#c0c0c0"/>
<rect x="843" y="648" width="1" height="8" fill="#c0c0c0"/>
<rect x="851" y="655" width="1" height="1" fill="#c0c0c0"/>
<rect x="859" y="655" width="1" height="10" fill="#c0c0c0"/>
<rect x="867" y="655" width="1" height="18" fill="#c0c0c0"/>
<rect x="875" y="655" width="1" height="26" fill="#c0c0c0"/>
<rect x="883" y="655" width="1" height="39" fill="#c0c0c0"/>
<rect x="891" y="655" width="1" height="57" fill="#c0c0c0"/>
<rect x="899" y="655" width="1" height="70" fill="#c0c0c0"/>
<rect x="907" y="655" width="1" height="77" fill="#c0c0c0"/>
<rect x="915" y="655" width="1" height="82" fill="#c0c0c0"/>
<rect x="923" y="655" width="1" height="81" fill="#c0c0c0"/>
<rect x="931" y="655" width="1" height="79" fill="#c0c0c0"/>
<rect x="939" y="655" width="1" height="64" fill="#c0c0c0"/>
<rect x="947" y="655" width="1" height="54" fill="#c0c0c0"/>
<rect x="955" y="655" width="1" height="43" fill="#c0c0c0"/>
<rect x="963" y="655" width="1" height="37" fill="#c0c0c0"/>
<rect x="971" y="655" width="1" height="25" fill="#c0c0c0"/>
<rect x="979" y="655" width="1" height="19" fill="#c0c0c0"/>
<rect x="987" y="655" width="1" height="9" fill="#c0c0c0"/>
<rect x="995" y="655" width="1" height="1" fill="#c0c0c0"/>
<rect x="1003" y="647" width="1" height="9" fill="#c0c0c0"/>
<rect x="1011" y="641" width="1" height="15" fill="#c0c0c0"/>
<rect x="1019" y="636" width="1" height="20" fill="#c0c0c0"/>
<rect x="1027" y="632" width="1" height="24" fill="#c0c0c0"/>
<rect x="1035" y="632" width="1" height="24" fill="#c0c0c0"/>
<rect x="1043" y="631" width="1" height="25" fill="#c0c0c0"/>
<rect x="1051" y="628" width="1" height="28" fill="#c0c0c0"/>
<rect x="1059" y="626" width="1" height="30" fill="#c0c0c0"/>
<rect x="1067" y="624" width="1" height="32" fill="#c0c0c0"/>
<rect x="1075" y="620" width="1" height="36" fill="#c0c0c0"/>
<rect x="1083" y="617" width="1" height="39" fill="#c0c0c0"/>
<rect x="1091" y="614" width="1" height="42" fill="#c0c0c0"/>
<rect x="1099" y="612" width="1" height="44" fill="#c0c0c0"/>
<rect x="1107" y="611" width="1" height="45" fill="#c0c0c0"/>
<rect x="1115" y="615" width="1" height="41" fill="#c0c0c0"/>
<rect x="1123" y="621" width="1" height="35" fill="#c0c0c0"/>
<rect x="1131" y="622" width="1" height="34" fill="#c0c0c0"/>
<rect x="1139" y="619" width="1" height="37" fill="#c0c0c0"/>
<rect x="1147" y="616" width="1" height="40" fill="#c0c0c0"/>
<rect x="1155" y="616" width="1" height="40" fill="#c0c0c0"/>
<rect x="1163" y="615" width="1" height="41" fill="#c0c0c0"/>
<rect x="1171" y="619" width="1" height="37" fill="#c0c0c0"/>
<rect x="1179" y="620" width="1" height="36" fill="#c0c0c0"/>
<rect x="1187" y="624" width="1" height="32" fill="#c0c0c0"/>
<rect x="1195" y="625" width="1" height="31" fill="#c0c0c0"/>
<rect x="1203" y="626" width="1" height="30" fill="#c0c0c0"/>
<rect x="1211" y="629" width="1" height="27" fill="#c0c0c0"/>
<rect x="1219" y="631" width="1" height="25" fill="#c0c0c0"/>
<rect x="1227" y="632" width="1" height="24" fill="#c0c0c0"/>
<rect x="1235" y="634" width="1" height="22" fill="#c0c0c0"/>
<rect x="1243" y="638" width="1" height="18" fill="#c0c0c0"/>
<rect x="1251" y="640" width="1" height="16" fill="#c0c0c0"/>
<rect x="1259" y="643" width="1" height="13" fill="#c0c0c0"/>
<rect x="1267" y="643" width="1" height="13" fill="#c0c0c0"/>
<rect x="1275" y="642" width="1" height="14" fill="#c0c0c0"/>
<rect x="1283" y="640" width="1" height="16" fill="#c0c0c0"/>
<rect x="1291" y="640" width="1" height="16" fill="#c0c0c0"/>
<rect x="1299" y="641" width="1" height="15" fill="#c0c0c0"/>
<rect x="1307" y="644" width="1" height="12" fill="#c0c0c0"/>
<rect x="1315" y="647" width="1" height="9" fill="#c0c0c0"/>
<rect x="1323" y="649" width="1" height="7" fill="#c0c0c0"/>
<rect x="1331" y="651" width="1" height="5" fill="#c0c0c0"/>
<rect x="1339" y="653" width="1" height="3" fill="#c0c0c0"/>
<rect x="1347" y="654" width="1" height="2" fill="#c0c0c0"/>
<rect x="1355" y="652" width="1" height="4" fill="#c0c0c0"/>
<rect x="1363" y="651" width="1" height="5" fill="#c0c0c0"/>
<rect x="1371" y="647" width="1" height="9" fill="#c0c0c0"/>
<rect x="1379" y="647" width="1" height="9" fill="#c0c0c0"/>
<rect x="1387" y="650" width="1" height="6" fill="#c0c0c0"/>
<rect x="1395" y="655" width="1" height="2" fill="#c0c0c0"/>
<rect x="1403" y="655" width="1" height="5" fill="#c0c0c0"/>
<rect x="1411" y="655" width="1" height="8" fill="#c0c0c0"/>
<polyline points="0.0,661.3 3.5,659.6 11.5,656.3 19.5,652.7 27.5,650.3 35.5,648.3 43.5,646.4 51.5,644.2 59.5,641.5 67.5,638.3 75.5,634.5 83.5,630.6 91.5,626.4 99.5,621.8 107.5,617.3 115.5,612.7 123.5,608.8 131.5,606.0 139.5,604.0 147.5,603.1 155.5,603.0 163.5,604.0 171.5,606.0 179.5,608.6 187.5,611.8 195.5,615.2 203.5,618.7 211.5,622.3 219.5,625.2 227.5,627.7 235.5,630.1 243.5,631.6 251.5,632.5 259.5,632.6 267.5,632.3 275.5,631.2 283.5,629.6 291.5,628.0 299.5,625.8 307.5,623.4 315.5,621.0 323.5,619.0 331.5,617.6 339.5,616.4 347.5,615.3 355.5,614.4 363.5,613.5 371.5,613.0 379.5,612.6 387.5,612.5 395.5,612.3 403.5,612.1 411.5,612.1 419.5,612.4 427.5,613.1 435.5,614.1 443.5,616.3 451.5,619.1 459.5,622.6 467.5,626.7 475.5,631.1 483.5,635.5 491.5,640.0 499.5,643.8 507.5,647.3 515.5,649.6 523.5,652.2 531.5,655.3 539.5,658.1 547.5,660.6 555.5,663.3 563.5,666.3 571.5,669.3 579.5,671.5 587.5,672.1 595.5,670.8 603.5,667.2 611.5,662.9 619.5,658.1 627.5,653.3 635.5,648.2 643.5,642.8 651.5,637.6 659.5,633.3 667.5,629.6 675.5,626.8 683.5,624.6 691.5,622.7 699.5,621.0 707.5,619.6 715.5,619.2 723.5,619.7 731.5,620.8 739.5,622.6 747.5,624.5 755.5,626.5 763.5,628.7 771.5,631.1 779.5,633.5 787.5,635.4 795.5,636.8 803.5,638.0 811.5,638.8 819.5,639.3 827.5,639.6 835.5,640.0 843.5,640.9 851.5,642.0 859.5,644.3 867.5,647.7 875.5,652.1 883.5,657.9 891.5,665.9 899.5,675.5 907.5,685.7 915.5,695.5 923.5,704.4 931.5,712.1 939.5,717.3 947.5,720.3 955.5,720.7 963.5,718.5 971.5,713.5 979.5,707.1 987.5,698.9 995.5,690.0 1003.5,680.5 1011.5,671.9 1019.5,664.0 1027.5,656.8 1035.5,650.2 1043.5,644.9 1051.5,639.9 1059.5,635.8 1067.5,632.4 1075.5,629.4 1083.5,626.7 1091.5,624.3 1099.5,622.0 1107.5,619.7 1115.5,617.9 1123.5,617.1 1131.5,616.7 1139.5,616.1 1147.5,615.7 1155.5,615.5 1163.5,615.6 1171.5,616.4 1179.5,617.4 1187.5,618.4 1195.5,618.9 1203.5,619.3 1211.5,620.4 1219.5,622.1 1227.5,623.9 1235.5,626.0 1243.5,628.1 1251.5,630.3 1259.5,632.5 1267.5,634.5 1275.5,636.2 1283.5,637.5 1291.5,638.5 1299.5,639.5 1307.5,640.6 1315.5,641.6 1323.5,642.5 1331.5,643.4 1339.5,644.5 1347.5,645.9 1355.5,647.2 1363.5,648.4 1371.5,649.1 1379.5,649.5 1387.5,649.8 1395.5,650.6 1403.5,651.5 1411.5,652.5" fill="none" stroke="#ff0000" stroke-width="1" stroke-dasharray="3,3"/>
</g>
<g clip-path="url(#crsi)" shape-rendering="crispEdges">
<line x1="0" y1="782.5" x2="1653" y2="782.5" stroke="#c0c0c0" stroke-width="1" stroke-dasharray="3,3"/>
<line x1="0" y1="833.5" x2="1653" y2="833.5" stroke="#c0c0c0" stroke-width="1" stroke-dasharray="3,3"/>
<line x1="0" y1="894.5" x2="1653" y2="894.5" stroke="#c0c0c0" stroke-width="1" stroke-dasharray="3,3"/>
<polyline points="0.0,832.5 3.5,835.1 11.5,830.1 19.5,825.7 27.5,825.0 35.5,819.2 43.5,815.5 51.5,808.6 59.5,801.6 67.5,799.7 75.5,808.2 83.5,807.8 91.5,799.2 99.5,798.3 107.5,796.5 115.5,794.2 123.5,801.6 131.5,806.1 139.5,809.3 147.5,828.7 155.5,826.5 163.5,826.5 171.5,831.3 179.5,821.8 187.5,821.8 195.5,819.5 203.5,828.7 211.5,824.0 219.5,823.7 227.5,827.0 235.5,832.8 243.5,815.3 251.5,808.1 259.5,803.0 267.5,802.8 275.5,798.9 283.5,805.4 291.5,808.2 299.5,802.3 307.5,806.7 315.5,802.8 323.5,801.9 331.5,809.6 339.5,799.5 347.5,796.2 355.5,801.3 363.5,803.4 371.5,807.6 379.5,809.2 387.5,800.8 395.5,797.9 403.5,806.3 411.5,802.3 419.5,802.9 427.5,814.0 435.5,819.7 443.5,856.1 451.5,841.7 459.5,848.2 467.5,841.7 475.5,838.7 483.5,835.7 491.5,832.9 499.5,827.0 507.5,828.0 515.5,838.2 523.5,859.9 531.5,869.1 539.5,843.9 547.5,844.2 555.5,846.6 563.5,850.8 571.5,837.4 579.5,825.1 587.5,815.0 595.5,813.6 603.5,813.1 611.5,812.0 619.5,820.6 627.5,829.0 635.5,827.2 643.5,813.3 651.5,811.3 659.5,810.4 667.5,812.7 675.5,815.0 683.5,813.9 691.5,814.8 699.5,823.4 707.5,827.7 715.5,827.4 723.5,828.7 731.5,821.9 739.5,830.7 747.5,821.7 755.5,824.1 763.5,828.9 771.5,836.3 779.5,841.0 787.5,823.9 795.5,820.0 803.5,827.1 811.5,821.0 819.5,819.8 827.5,817.8 835.5,832.2 843.5,851.5 851.5,854.0 859.5,859.2 867.5,861.7 875.5,868.1 883.5,876.4 891.5,886.1 899.5,884.5 907.5,875.0 915.5,876.5 923.5,860.3 931.5,859.5 939.5,830.2 947.5,833.5 955.5,828.6 963.5,833.8 971.5,822.4 979.5,830.7 987.5,820.4 995.5,819.4 1003.5,817.5 1011.5,818.1 1019.5,817.8 1027.5,816.8 1035.5,825.9 1043.5,821.2 1051.5,818.2 1059.5,818.0 1067.5,814.0 1075.5,810.1 1083.5,809.6 1091.5,806.0 1099.5,806.7 1107.5,808.6 1115.5,824.5 1123.5,832.2 1131.5,819.9 1139.5,812.3 1147.5,808.7 1155.5,813.1 1163.5,814.6 1171.5,826.8 1179.5,820.9 1187.5,827.6 1195.5,821.6 1203.5,823.3 1211.5,829.4 1219.5,825.4 1227.5,823.9 1235.5,827.2 1243.5,836.6 1251.5,830.5 1259.5,836.7 1267.5,826.7 1275.5,823.6 1283.5,819.4 1291.5,823.5 1299.5,830.7 1307.5,835.1 1315.5,838.7 1323.5,836.3 1331.5,836.0 1339.5,839.8 1347.5,835.9 1355.5,823.8 1363.5,820.7 1371.5,817.3 1379.5,827.4 1387.5,840.6 1395.5,852.2 1403.5,847.7 1411.5,847.7" fill="none" stroke="#1e90ff" stroke-width="1"/>
</g>
<g shape-rendering="crispEdges">
<rect x="0" y="19" width="1654" height="1" fill="#000"/>
<rect x="1653" y="19" width="1" height="902" fill="#000"/>
<rect x="0" y="586" width="1654" height="1" fill="#000"/>
<rect x="0" y="588" width="1654" height="1" fill="#000"/>
<rect x="0" y="744" width="1654" height="1" fill="#000"/>
<rect x="0" y="746" width="1654" height="1" fill="#000"/>
<rect x="0" y="920" width="1654" height="1" fill="#000"/>
</g>
<g shape-rendering="crispEdges">
<rect x="1654" y="22" width="2" height="1" fill="#000"/>
<rect x="1654" y="55" width="2" height="1" fill="#000"/>
<rect x="1654" y="88" width="2" height="1" fill="#000"/>
<rect x="1654" y="220" width="2" height="1" fill="#000"/>
<rect x="1654" y="253" width="2" height="1" fill="#000"/>
<rect x="1654" y="286" width="2" height="1" fill="#000"/>
<rect x="1654" y="319" width="2" height="1" fill="#000"/>
<rect x="1654" y="352" width="2" height="1" fill="#000"/>
<rect x="1654" y="385" width="2" height="1" fill="#000"/>
<rect x="1654" y="418" width="2" height="1" fill="#000"/>
<rect x="1654" y="451" width="2" height="1" fill="#000"/>
<rect x="1654" y="484" width="2" height="1" fill="#000"/>
<rect x="1654" y="517" width="2" height="1" fill="#000"/>
<rect x="1654" y="550" width="2" height="1" fill="#000"/>
<rect x="1654" y="583" width="2" height="1" fill="#000"/>
<rect x="1654" y="590" width="2" height="1" fill="#000"/>
<rect x="1654" y="655" width="2" height="1" fill="#000"/>
<rect x="1654" y="743" width="2" height="1" fill="#000"/>
<rect x="1654" y="748" width="2" height="1" fill="#000"/>
<rect x="1654" y="782" width="2" height="1" fill="#000"/>
<rect x="1654" y="833" width="2" height="1" fill="#000"/>
<rect x="1654" y="894" width="2" height="1" fill="#000"/>
<rect x="1654" y="919" width="2" height="1" fill="#000"/>
</g>
<text transform="translate(1659,26) scale(0.91,1)" font-size="10" fill="#000" font-weight="normal">35145.5</text>
<text transform="translate(1659,59) scale(0.91,1)" font-size="10" fill="#000" font-weight="normal">35055.5</text>
<text transform="translate(1659,92) scale(0.91,1)" font-size="10" fill="#000" font-weight="normal">34963.0</text>
<text transform="translate(1659,224) scale(0.91,1)" font-size="10" fill="#000" font-weight="normal">34598.0</text>
<text transform="translate(1659,257) scale(0.91,1)" font-size="10" fill="#000" font-weight="normal">34505.5</text>
<text transform="translate(1659,290) scale(0.91,1)" font-size="10" fill="#000" font-weight="normal">34413.0</text>
<text transform="translate(1659,323) scale(0.91,1)" font-size="10" fill="#000" font-weight="normal">34323.0</text>
<text transform="translate(1659,356) scale(0.91,1)" font-size="10" fill="#000" font-weight="normal">34230.5</text>
<text transform="translate(1659,389) scale(0.91,1)" font-size="10" fill="#000" font-weight="normal">34140.5</text>
<text transform="translate(1659,422) scale(0.91,1)" font-size="10" fill="#000" font-weight="normal">34048.0</text>
<text transform="translate(1659,455) scale(0.91,1)" font-size="10" fill="#000" font-weight="normal">33955.5</text>
<text transform="translate(1659,488) scale(0.91,1)" font-size="10" fill="#000" font-weight="normal">33865.5</text>
<text transform="translate(1659,521) scale(0.91,1)" font-size="10" fill="#000" font-weight="normal">33773.0</text>
<text transform="translate(1659,554) scale(0.91,1)" font-size="10" fill="#000" font-weight="normal">33680.5</text>
<text transform="translate(1659,587) scale(0.91,1)" font-size="10" fill="#000" font-weight="normal">33590.5</text>
<text transform="translate(1659,599) scale(0.91,1)" font-size="10" fill="#000" font-weight="normal">174.57</text>
<text transform="translate(1659,659) scale(0.91,1)" font-size="10" fill="#000" font-weight="normal">0.00</text>
<text transform="translate(1659,741) scale(0.91,1)" font-size="10" fill="#000" font-weight="normal">-234.06</text>
<text transform="translate(1659,757) scale(0.91,1)" font-size="10" fill="#000" font-weight="normal">100</text>
<text transform="translate(1658,786) scale(0.91,1)" font-size="10" fill="#000" font-weight="normal">80</text>
<text transform="translate(1658,837) scale(0.91,1)" font-size="10" fill="#000" font-weight="normal">50</text>
<text transform="translate(1658,898) scale(0.91,1)" font-size="10" fill="#000" font-weight="normal">15</text>
<text transform="translate(1659,917) scale(0.91,1)" font-size="10" fill="#000" font-weight="normal">0</text>
<g shape-rendering="crispEdges">
<rect x="1655" y="115" width="41" height="11" fill="#ff0000"/>
<rect x="1655" y="132" width="41" height="11" fill="#ff0000"/>
<rect x="1655" y="147" width="41" height="11" fill="#32cd32"/>
<rect x="1655" y="158" width="41" height="11" fill="#000000"/>
<rect x="1655" y="180" width="41" height="11" fill="#0000ff"/>
<rect x="1655" y="199" width="41" height="11" fill="#0000ff"/>
<rect x="1648.5" y="136.5" width="4" height="4" fill="#fff" stroke="#ff0000" stroke-width="1"/>
<rect x="1648.5" y="151.5" width="4" height="4" fill="#fff" stroke="#32cd32" stroke-width="1"/>
<rect x="1648.5" y="184.5" width="4" height="4" fill="#fff" stroke="#0000ff" stroke-width="1"/>
<rect x="1648.5" y="203.5" width="4" height="4" fill="#fff" stroke="#0000ff" stroke-width="1"/>
</g>
<text transform="translate(1659,124) scale(0.91,1)" font-size="10" fill="#fff" font-weight="normal">34871.2</text>
<text transform="translate(1659,141) scale(0.91,1)" font-size="10" fill="#fff" font-weight="normal">34824.1</text>
<text transform="translate(1659,156) scale(0.91,1)" font-size="10" fill="#fff" font-weight="normal">34782.5</text>
<text transform="translate(1659,167) scale(0.91,1)" font-size="10" fill="#fff" font-weight="normal">34755.0</text>
<text transform="translate(1659,189) scale(0.91,1)" font-size="10" fill="#fff" font-weight="normal">34691.1</text>
<text transform="translate(1659,208) scale(0.91,1)" font-size="10" fill="#fff" font-weight="normal">34638.5</text>
<polygon points="0.5,30 3,25.5 5.5,30" fill="#000"/>
<text transform="translate(10.5,31) scale(0.922,1)" font-size="10" fill="#000" font-weight="normal">DJ30-,H4&#160;&#160;34755.0 34755.0 34755.0 34755.0</text>
<text transform="translate(0,601) scale(0.93,1)" font-size="10" fill="#000" font-weight="normal">MACD(12,26,9) -17.34 8.71</text>
<text transform="translate(0,759) scale(0.91,1)" font-size="10" fill="#000" font-weight="normal">RSI(14) 41.8173</text>
<g shape-rendering="crispEdges">
<rect x="59" y="921" width="1" height="3" fill="#000"/>
<rect x="123" y="921" width="1" height="3" fill="#000"/>
<rect x="187" y="921" width="1" height="3" fill="#000"/>
<rect x="251" y="921" width="1" height="3" fill="#000"/>
<rect x="315" y="921" width="1" height="3" fill="#000"/>
<rect x="379" y="921" width="1" height="3" fill="#000"/>
<rect x="443" y="921" width="1" height="3" fill="#000"/>
<rect x="507" y="921" width="1" height="3" fill="#000"/>
<rect x="571" y="921" width="1" height="3" fill="#000"/>
<rect x="635" y="921" width="1" height="3" fill="#000"/>
<rect x="699" y="921" width="1" height="3" fill="#000"/>
<rect x="763" y="921" width="1" height="3" fill="#000"/>
<rect x="827" y="921" width="1" height="3" fill="#000"/>
<rect x="891" y="921" width="1" height="3" fill="#000"/>
<rect x="955" y="921" width="1" height="3" fill="#000"/>
<rect x="1019" y="921" width="1" height="3" fill="#000"/>
<rect x="1083" y="921" width="1" height="3" fill="#000"/>
<rect x="1147" y="921" width="1" height="3" fill="#000"/>
<rect x="1211" y="921" width="1" height="3" fill="#000"/>
<rect x="1275" y="921" width="1" height="3" fill="#000"/>
<rect x="1339" y="921" width="1" height="3" fill="#000"/>
<rect x="1403" y="921" width="1" height="3" fill="#000"/>
</g>
<text transform="translate(58.5,933) scale(0.91,1)" font-size="10" fill="#000" font-weight="normal">24 Jun 20:00</text>
<text transform="translate(122.5,933) scale(0.91,1)" font-size="10" fill="#000" font-weight="normal">28 Jun 00:00</text>
<text transform="translate(186.5,933) scale(0.91,1)" font-size="10" fill="#000" font-weight="normal">29 Jun 08:00</text>
<text transform="translate(250.5,933) scale(0.91,1)" font-size="10" fill="#000" font-weight="normal">30 Jun 16:00</text>
<text transform="translate(314.5,933) scale(0.91,1)" font-size="10" fill="#000" font-weight="normal">2 Jul 00:00</text>
<text transform="translate(378.5,933) scale(0.91,1)" font-size="10" fill="#000" font-weight="normal">5 Jul 04:00</text>
<text transform="translate(442.5,933) scale(0.91,1)" font-size="10" fill="#000" font-weight="normal">6 Jul 12:00</text>
<text transform="translate(506.5,933) scale(0.91,1)" font-size="10" fill="#000" font-weight="normal">7 Jul 20:00</text>
<text transform="translate(570.5,933) scale(0.91,1)" font-size="10" fill="#000" font-weight="normal">9 Jul 04:00</text>
<text transform="translate(634.5,933) scale(0.91,1)" font-size="10" fill="#000" font-weight="normal">12 Jul 08:00</text>
<text transform="translate(698.5,933) scale(0.91,1)" font-size="10" fill="#000" font-weight="normal">13 Jul 16:00</text>
<text transform="translate(762.5,933) scale(0.91,1)" font-size="10" fill="#000" font-weight="normal">15 Jul 00:00</text>
<text transform="translate(826.5,933) scale(0.91,1)" font-size="10" fill="#000" font-weight="normal">16 Jul 08:00</text>
<text transform="translate(890.5,933) scale(0.91,1)" font-size="10" fill="#000" font-weight="normal">19 Jul 12:00</text>
<text transform="translate(954.5,933) scale(0.91,1)" font-size="10" fill="#000" font-weight="normal">20 Jul 20:00</text>
<text transform="translate(1018.5,933) scale(0.91,1)" font-size="10" fill="#000" font-weight="normal">22 Jul 04:00</text>
<text transform="translate(1082.5,933) scale(0.91,1)" font-size="10" fill="#000" font-weight="normal">23 Jul 12:00</text>
<text transform="translate(1146.5,933) scale(0.91,1)" font-size="10" fill="#000" font-weight="normal">26 Jul 16:00</text>
<text transform="translate(1210.5,933) scale(0.91,1)" font-size="10" fill="#000" font-weight="normal">28 Jul 00:00</text>
<text transform="translate(1274.5,933) scale(0.91,1)" font-size="10" fill="#000" font-weight="normal">29 Jul 08:00</text>
<text transform="translate(1338.5,933) scale(0.91,1)" font-size="10" fill="#000" font-weight="normal">30 Jul 16:00</text>
<text transform="translate(1402.5,933) scale(0.91,1)" font-size="10" fill="#000" font-weight="normal">2 Aug 20:00</text>
<text transform="translate(0,933) scale(0.91,1)" font-size="10" fill="#000" font-weight="normal">3 Jun 2021</text>
<g clip-path="url(#cm)">
<g shape-rendering="crispEdges">
<rect x="826" y="84" width="10" height="1" fill="#ff0000"/>
<rect x="890" y="572" width="10" height="1" fill="#ff0000"/>
<rect x="1124" y="201" width="8" height="1" fill="#ff0000"/>
<rect x="932" y="153" width="8" height="1" fill="#ff0000"/>
<rect x="1379" y="47" width="8" height="1" fill="#ff0000"/>
<rect x="1387" y="186" width="8" height="1" fill="#ff0000"/>
<rect x="1121.5" y="199.5" width="3" height="3" fill="#fff" stroke="#ff0000" stroke-width="1"/>
<rect x="938.5" y="151.5" width="3" height="3" fill="#fff" stroke="#ff0000" stroke-width="1"/>
<rect x="1377.5" y="45.5" width="3" height="3" fill="#fff" stroke="#ff0000" stroke-width="1"/>
<rect x="1385.5" y="184.5" width="3" height="3" fill="#fff" stroke="#ff0000" stroke-width="1"/>
</g>
<rect x="764.5" y="75.5" width="61" height="18" fill="#fff" stroke="#ff0000" stroke-width="1" shape-rendering="crispEdges"/>
<text x="766.4" y="91.2" font-size="16.5" fill="#ff0000" textLength="57.700000000000045" lengthAdjust="spacingAndGlyphs">34974.6</text>
<rect x="828.5" y="563.5" width="61" height="18" fill="#fff" stroke="#ff0000" stroke-width="1" shape-rendering="crispEdges"/>
<text x="830.3" y="579" font-size="16.5" fill="#ff0000" textLength="57.700000000000045" lengthAdjust="spacingAndGlyphs">33619.2</text>
<rect x="942.5" y="141.5" width="73" height="24" fill="#fff" stroke="#ff0000" stroke-width="1" shape-rendering="crispEdges"/>
<text x="943.8" y="162" font-size="22" fill="#ff0000" textLength="70.0" lengthAdjust="spacingAndGlyphs">34782.5</text>
<rect x="1060.5" y="192.5" width="61" height="18" fill="#fff" stroke="#ff0000" stroke-width="1" shape-rendering="crispEdges"/>
<text x="1062.4" y="207.6" font-size="16.5" fill="#ff0000" textLength="57.299999999999955" lengthAdjust="spacingAndGlyphs">34649.6</text>
<rect x="1316.5" y="38.5" width="61" height="18" fill="#fff" stroke="#ff0000" stroke-width="1" shape-rendering="crispEdges"/>
<text x="1318.5" y="54" font-size="16.5" fill="#ff0000" textLength="57.5" lengthAdjust="spacingAndGlyphs">35076.2</text>
<rect x="1324.5" y="177.5" width="61" height="18" fill="#fff" stroke="#ff0000" stroke-width="1" shape-rendering="crispEdges"/>
<text x="1326.5" y="192.8" font-size="16.5" fill="#ff0000" textLength="57.5" lengthAdjust="spacingAndGlyphs">34691.1</text>
<polygon points="1415,20 1424,20 1419.5,25" fill="#c0c0c0"/>
<line x1="1127" y1="187" x2="1162.9775613926606" y2="73.53230637699318" stroke="#ff0000" stroke-width="3.3" shape-rendering="crispEdges"/>
<polygon points="1166,64 1167.1392268596894,76.94998695606147 1157.606920482696,73.92754834872217" fill="#ff0000" shape-rendering="crispEdges"/>
<line x1="1166" y1="64" x2="1254.357085164921" y2="138.55129060790216" stroke="#ff0000" stroke-width="3.3" shape-rendering="crispEdges"/>
<polygon points="1262,145 1249.6041475018562,141.08300614702205 1256.0528568939542,133.44009131194315" fill="#ff0000" shape-rendering="crispEdges"/>
<line x1="1262" y1="145" x2="1282.970568586302" y2="79.03008632225854" stroke="#ff0000" stroke-width="3.3" shape-rendering="crispEdges"/>
<polygon points="1286,69.5 1287.1297254646918,82.45081929355929 1277.599639142433,79.4213878798612" fill="#ff0000" shape-rendering="crispEdges"/>
<line x1="1286" y1="69.5" x2="1343.6324711976058" y2="139.28932059085068" stroke="#ff0000" stroke-width="3.3" shape-rendering="crispEdges"/>
<polygon points="1350,147 1338.5036257325523,140.93094911021797 1346.2143051417015,134.56342030782366" fill="#ff0000" shape-rendering="crispEdges"/>
<line x1="1350" y1="147" x2="1367.3936451757074" y2="66.27564674863919" stroke="#ff0000" stroke-width="3.3" shape-rendering="crispEdges"/>
<polygon points="1369.5,56.5 1371.8601975851686,69.28395351051324 1362.0845508365294,67.17759868622082" fill="#ff0000" shape-rendering="crispEdges"/>
<line x1="1369.5" y1="56.5" x2="1402.8023110138824" y2="175.3707490356633" stroke="#ff0000" stroke-width="3.3" shape-rendering="crispEdges"/>
<polygon points="1405.5,185 1397.4481477344905,174.7937433358548 1407.0773986988272,172.09605434973713" fill="#ff0000" shape-rendering="crispEdges"/>
</g>
<line x1="1188.5" y1="622.5" x2="1404.1290234407911" y2="655.8201581475836" stroke="#ff0000" stroke-width="3.2" shape-rendering="crispEdges"/>
<polygon points="1415,657.5 1401.3889177698366,660.4560853376938 1402.9160467265788,650.5733793747766" fill="#ff0000" shape-rendering="crispEdges"/>
<line x1="1234" y1="819.5" x2="1399.0927347202394" y2="842.1412893330614" stroke="#ff0000" stroke-width="3.4" shape-rendering="crispEdges"/>
<polygon points="1409,843.5 1396.4591005441569,846.6250345339587 1397.763462784418,837.1140598653886" fill="#ff0000" shape-rendering="crispEdges"/>
<rect x="1508.5" y="156.5" width="110" height="24" fill="none" stroke="#333" stroke-width="1" shape-rendering="crispEdges"/>
<path d="M1518.6,158.5 L1510.4,164.5 M1514.3,161.9 L1525.7,161.1 L1510.6,172.2 M1516,166.5 L1519,168.5 M1519.6,169.2 L1526.6,168.6 L1510,176.5 M1516.5,171.5 L1518.5,173.5 M1539.1,158.5 L1541.1,160.1 M1532.4,164.1 L1533.6,161.3 L1549,161.3 L1548.6,162.8 M1538.4,162.5 L1532.4,168 M1542.7,163.3 L1547.8,166.4 M1534.4,168.6 L1546.6,168.6 M1540.3,168.6 L1540.3,175.5 M1531.6,175.5 L1549.4,175.5 M1553.3,161.3 L1560.4,161.3 M1557.3,158.5 L1554.1,166.8 L1560.8,166.4 M1557.7,164 L1557.7,176.7 M1553.3,172.3 L1560.8,170.4 M1562,162.5 L1571,162.5 M1560.4,166.4 L1571.5,165.6 M1566.3,158.5 L1564.4,168.8 M1562.4,169.6 L1569.5,169.6 L1564.4,172.7 L1568.7,176.3 M1575.2,163.5 L1585.4,162.8 M1579.8,158.2 L1579.8,176.2 L1576.2,175.5 M1575.2,169.5 L1584,166.3 M1592.8,159.1 L1584.7,160.3 L1584.7,167.4 L1580.5,176.5 M1584.7,165.4 L1593.9,165.4 M1590,165.4 L1590,176.5 M1606.2,158.2 L1606.2,165.6 M1606.2,161.5 L1614.4,161.5 M1601.7,164.5 L1601.7,170.4 L1612.2,170.4 L1612.2,165.6 L1601.7,165.6 M1600.2,171.9 L1598.1,176.5 M1603.4,173.4 L1604.8,175.5 M1608.4,173.4 L1609.8,175.5 M1612.6,172.6 L1614.7,175.5" fill="none" stroke="#00ff00" stroke-width="1.15"/>
<rect x="1561" y="154" width="3" height="3" fill="#00cc00"/>
<g shape-rendering="crispEdges">
<rect x="0" y="0" width="1700" height="14" fill="#f0f0f0"/>
<rect x="0" y="14" width="1700" height="1" fill="#f5f5f5"/>
<rect x="0" y="15" width="1700" height="1" fill="#a0a0a0"/>
<rect x="0" y="16" width="1700" height="1" fill="#696969"/>
<rect x="1699" y="17" width="1" height="920" fill="#e3e3e3"/>
<rect x="14" y="0" width="1" height="13" fill="#a0a0a0"/>
<rect x="15" y="0" width="1" height="13" fill="#ffffff"/>
<rect x="250" y="0" width="1" height="15" fill="#a0a0a0"/>
<rect x="251" y="0" width="1" height="15" fill="#ffffff"/>
<rect x="254" y="1" width="3" height="1" fill="#a8a8a8"/>
<rect x="254" y="3" width="3" height="1" fill="#a8a8a8"/>
<rect x="254" y="5" width="3" height="1" fill="#a8a8a8"/>
<rect x="254" y="7" width="3" height="1" fill="#a8a8a8"/>
<rect x="254" y="9" width="3" height="1" fill="#a8a8a8"/>
<rect x="254" y="11" width="3" height="1" fill="#a8a8a8"/>
<rect x="288" y="0" width="1" height="13" fill="#a0a0a0"/>
<rect x="289" y="0" width="1" height="13" fill="#ffffff"/>
<rect x="289" y="0" width="24" height="13" fill="#f8f8f8"/>
<rect x="345" y="0" width="1" height="13" fill="#a0a0a0"/>
<rect x="346" y="0" width="1" height="13" fill="#ffffff"/>
<rect x="435" y="0" width="1" height="15" fill="#a0a0a0"/>
<rect x="436" y="0" width="1" height="15" fill="#ffffff"/>
<rect x="440" y="0" width="1" height="13" fill="#a0a0a0"/>
<rect x="441" y="0" width="1" height="13" fill="#ffffff"/>
<rect x="441" y="0" width="24" height="13" fill="#f8f8f8"/>
<rect x="468" y="0" width="1" height="13" fill="#a0a0a0"/>
<rect x="469" y="0" width="1" height="13" fill="#ffffff"/>
<rect x="469" y="0" width="24" height="13" fill="#f8f8f8"/>
<rect x="497" y="0" width="1" height="13" fill="#a0a0a0"/>
<rect x="498" y="0" width="1" height="13" fill="#ffffff"/>
<rect x="618" y="0" width="1" height="15" fill="#a0a0a0"/>
<rect x="619" y="0" width="1" height="15" fill="#ffffff"/>
<rect x="622" y="1" width="3" height="1" fill="#a8a8a8"/>
<rect x="622" y="3" width="3" height="1" fill="#a8a8a8"/>
<rect x="622" y="5" width="3" height="1" fill="#a8a8a8"/>
<rect x="622" y="7" width="3" height="1" fill="#a8a8a8"/>
<rect x="622" y="9" width="3" height="1" fill="#a8a8a8"/>
<rect x="622" y="11" width="3" height="1" fill="#a8a8a8"/>
<rect x="628" y="0" width="1" height="13" fill="#a0a0a0"/>
<rect x="629" y="0" width="1" height="13" fill="#ffffff"/>
<rect x="630" y="0" width="23" height="13" fill="#f8f8f8"/>
<rect x="685" y="0" width="1" height="13" fill="#a0a0a0"/>
<rect x="686" y="0" width="1" height="13" fill="#ffffff"/>
<rect x="924" y="0" width="1" height="15" fill="#a0a0a0"/>
<rect x="925" y="0" width="1" height="15" fill="#ffffff"/>
<rect x="928" y="1" width="3" height="1" fill="#a8a8a8"/>
<rect x="928" y="3" width="3" height="1" fill="#a8a8a8"/>
<rect x="928" y="5" width="3" height="1" fill="#a8a8a8"/>
<rect x="928" y="7" width="3" height="1" fill="#a8a8a8"/>
<rect x="928" y="9" width="3" height="1" fill="#a8a8a8"/>
<rect x="928" y="11" width="3" height="1" fill="#a8a8a8"/>
<rect x="1185" y="0" width="1" height="13" fill="#a0a0a0"/>
<rect x="1186" y="0" width="1" height="13" fill="#ffffff"/>
<rect x="1075" y="0" width="24" height="13" fill="#f8f8f8"/>
</g>
<circle cx="1.5" cy="1.5" r="4" fill="#dbe9f7" stroke="#3a78c8" stroke-width="1.2"/>
<line x1="4" y1="5" x2="6.5" y2="10.5" stroke="#c8a030" stroke-width="2"/>
<rect x="24.5" y="-2" width="11" height="10" fill="#fff" stroke="#888" stroke-width="1"/>
<path d="M27,1.5h6M27,4h5" stroke="#777" stroke-width="1"/>
<path d="M32,1.5h4v4h4v4h-4v4h-4v-4h-4v-4h4z" fill="#22dd22" stroke="#118811" stroke-width="0.8"/>
<g stroke="#111" stroke-width="1" fill="none" shape-rendering="crispEdges"><path d="M43,1.5H48M45.5,1.5V6.5L44.5,6M43.5,4L44.5,5M47.5,3.5L46.5,5M49.5,0V3.5L48.5,6.5M49.5,2.5H53M51.5,2.5V6.5"/><path d="M54.5,0L56,1.5M55.5,3V6.5L57,5.5M58.5,1.5H65M62.5,1.5V6.5L61,6"/><path d="M67.5,0V3H78V0M72.5,0V6.5M66.5,4.5H79"/></g>
<linearGradient id="ggold" x1="0" y1="0" x2="1" y2="1"><stop offset="0" stop-color="#f8d840"/><stop offset="1" stop-color="#d8a010"/></linearGradient>
<polygon points="91.5,5 97,-1 104.5,3 99,9.5" fill="url(#ggold)" stroke="#a87010" stroke-width="0.8"/>
<polygon points="99,9.5 104.5,3 106.5,5 100.5,11" fill="#c89850" stroke="#a87010" stroke-width="0.8"/>
<rect x="121" y="-2" width="11" height="5.5" fill="#1e90e8"/>
<rect x="123" y="-1" width="3" height="2" fill="#fff"/><rect x="127.5" y="-1" width="3" height="2" fill="#fff"/>
<path d="M120,10.3 C118.5,10 118.5,7 121,7 C121,4.5 124,3.5 125.5,5 C126.5,2.5 131,2.5 131.5,5.5 C134.5,5.5 135.5,9.5 133,10.3 Z" fill="#dde6f2" stroke="#4a68a8" stroke-width="0.9"/>
<path d="M150,0 a8,8 0 0 0 4,10" fill="none" stroke="#4a80d8" stroke-width="0.9"/>
<path d="M152.5,0.5 a5,5 0 0 0 2,7" fill="none" stroke="#6a98e0" stroke-width="0.9"/>
<circle cx="154.8" cy="2.8" r="1.6" fill="#2a60c8"/>
<path d="M157.5,0 a6,6 0 0 1 -1,9.5 M160,-1 a9,9 0 0 1 -3.5,11.5" fill="none" stroke="#50a060" stroke-width="1"/>
<line x1="155.4" y1="3" x2="155.4" y2="10.8" stroke="#22aa22" stroke-width="1"/>
<path d="M174,0 v6 q8,5 14,0 v-6 z" fill="#f2d040" stroke="#b09020" stroke-width="0.8"/>
<rect x="176" y="-2" width="10" height="4" fill="#6aa0e0"/>
<circle cx="186" cy="7" r="4.3" fill="#dd2020"/>
<rect x="184.3" y="5.3" width="3.4" height="3.4" fill="#fff"/>
<g stroke="#111" stroke-width="1" fill="none" shape-rendering="crispEdges"><path d="M197.5,0V6.5M204.5,0V6.5M197.5,2.5H204.5M197.5,6.5H204.5"/><path d="M208,0.5H212.5M207.5,5.5L212.5,4.5M214,2.5H218.5V6.5H217M216,0V3L214,6.5"/><path d="M220,0.5L222,2M229,0.5L227,2M221,2.5L229,6.5M229,2.5L220.5,6.5"/><path d="M231.5,0V2H239.5V0M232,3.5H241V6.5H239.5M234.5,3.5L232,6.5M237.5,3.5L235,6.5"/></g>
<g shape-rendering="crispEdges">
<rect x="268" y="0" width="1" height="11" fill="#555"/>
<rect x="266" y="8" width="13" height="1" fill="#555"/>
<polygon points="278,6 280.5,8.5 278,11" fill="#555"/>
<rect x="274" y="0" width="1" height="7" fill="#119911"/>
<rect x="272" y="5" width="2" height="1" fill="#119911"/>
<rect x="296" y="0" width="1" height="11" fill="#555"/>
<rect x="294" y="8" width="13" height="1" fill="#555"/>
<polygon points="306,6 308.5,8.5 306,11" fill="#555"/>
<rect x="300" y="0" width="5" height="5" fill="#22cc22"/>
<rect x="302" y="5" width="1" height="2" fill="#119911"/>
<rect x="324" y="0" width="1" height="11" fill="#555"/>
<rect x="322" y="8" width="13" height="1" fill="#555"/>
<polygon points="334,6 336.5,8.5 334,11" fill="#555"/>
<rect x="448" y="0" width="1" height="11" fill="#555"/>
<rect x="446" y="8" width="13" height="1" fill="#555"/>
<polygon points="458,6 460.5,8.5 458,11" fill="#555"/>
<rect x="476" y="0" width="1" height="11" fill="#555"/>
<rect x="474" y="8" width="13" height="1" fill="#555"/>
<polygon points="486,6 488.5,8.5 486,11" fill="#555"/>
<rect x="482" y="0" width="1" height="7" fill="#1070c0"/>
</g>
<polyline points="323,5.5 329.5,0 334.5,4.5" fill="none" stroke="#22aa22" stroke-width="1"/>
<polygon points="453.5,0 457.5,2.5 453.5,5.5" fill="#22bb44"/>
<polygon points="483,2.5 487,0.5 487,4.5" fill="#e03010"/>
<circle cx="360" cy="1" r="5" fill="#cfe3f7" stroke="#3a80d0" stroke-width="1.2"/>
<line x1="363.5" y1="5" x2="369" y2="10.5" stroke="#d8b830" stroke-width="2.2"/>
<circle cx="388" cy="1" r="5" fill="#cfe3f7" stroke="#3a80d0" stroke-width="1.2"/>
<line x1="391.5" y1="5" x2="397" y2="10.5" stroke="#d8b830" stroke-width="2.2"/>
<rect x="357" y="-1" width="6" height="2" fill="#3a80d0"/><rect x="359" y="-2" width="2" height="5" fill="#3a80d0"/>
<rect x="385" y="-1" width="6" height="2" fill="#3a80d0"/>
<g shape-rendering="crispEdges"><rect x="410" y="-2" width="8" height="4" fill="#2ea02e"/><rect x="418" y="-2" width="8" height="4" fill="#2c62d8"/><rect x="410" y="3" width="8" height="8" fill="#2c62d8"/><rect x="418" y="3" width="8" height="8" fill="#2ea02e"/><rect x="411" y="-1" width="6" height="2" fill="#fff"/><rect x="419" y="-1" width="6" height="2" fill="#fff"/><rect x="411" y="6" width="6" height="3" fill="#fff"/><rect x="419" y="6" width="6" height="3" fill="#fff"/></g>
<rect x="507.5" y="-2" width="9" height="9" fill="#fff" stroke="#888" stroke-width="1"/>
<path d="M515,1.5h4v4h4v4h-4v4h-4v-4h-4v-4h4z" fill="#22dd22" stroke="#118811" stroke-width="0.8"/>
<polygon points="529,2 534.5,2 531.75,5" fill="#000"/>
<polygon points="568,2 573.5,2 570.75,5" fill="#000"/>
<polygon points="607,2 612.5,2 609.75,5" fill="#000"/>
<circle cx="553" cy="2" r="7" fill="#fff" stroke="#1a5cc0" stroke-width="2"/>
<path d="M553,-2v4h3" stroke="#333" stroke-width="1" fill="none"/>
<rect x="584.5" y="-2" width="15" height="12" fill="#fff" stroke="#3a70c0" stroke-width="1"/>
<line x1="585" y1="4.5" x2="599" y2="4.5" stroke="#3a70c0"/>
<polyline points="586,2 589,0 592,1 595,-1 598,0" fill="none" stroke="#c03020" stroke-width="1"/>
<polyline points="586,8 589,6 592,7 595,5 598,6" fill="none" stroke="#20a020" stroke-width="1"/>
<path d="M636,-1 L636,8 L638.5,6 L641,10.5 L643,9.5 L640.5,5 L643.5,5 Z" fill="#555"/>
<g shape-rendering="crispEdges" fill="#555"><rect x="661" y="3" width="6" height="1"/><rect x="670" y="3" width="6" height="1"/><rect x="668" y="-2" width="1" height="4"/><rect x="668" y="5" width="1" height="6"/><rect x="702" y="0" width="1" height="9"/><rect x="725" y="3" width="12" height="1"/></g>
<line x1="753" y1="10" x2="763.5" y2="0" stroke="#555" stroke-width="1"/>
<path d="M779,6 L787,-2 M781,8 L789,0 M783,10 L791,2" stroke="#666" stroke-width="1" fill="none"/>
<text x="789" y="11" font-size="6" fill="#333" text-anchor="start" font-weight="bold">E</text>
<g shape-rendering="crispEdges"><rect x="808" y="2" width="10" height="1" fill="#777"/><rect x="808" y="6" width="10" height="1" fill="#777"/></g>
<text x="817" y="11.5" font-size="6" fill="#333" text-anchor="start" font-weight="bold">F</text>
<text x="838" y="7.5" font-size="10" fill="#555" text-anchor="start" font-weight="bold">A</text>
<rect x="865.5" y="0.5" width="11" height="9" fill="none" stroke="#777" stroke-width="1" stroke-dasharray="1,1"/>
<text x="867.5" y="7.5" font-size="10" fill="#555" text-anchor="start" font-weight="bold">T</text>
<path d="M893,2 l3,3 l5,-5 M898,4 l4,4 l4,-3" stroke="#444" stroke-width="1.6" fill="none"/>
<polygon points="902,5 906,7 902,10 898,7" fill="#333"/>
<polygon points="912.5,2 918.5,2 915.5,5" fill="#000"/>
<text transform="translate(940,7) scale(0.85,1)" font-size="10.4" fill="#333" font-weight="normal">M1</text>
<text transform="translate(967.8,7) scale(0.85,1)" font-size="10.4" fill="#333" font-weight="normal">M5</text>
<text transform="translate(993.8,7) scale(0.85,1)" font-size="10.4" fill="#333" font-weight="normal">M15</text>
<text transform="translate(1021.7,7) scale(0.85,1)" font-size="10.4" fill="#333" font-weight="normal">M30</text>
<text transform="translate(1052.7,7) scale(0.85,1)" font-size="10.4" fill="#333" font-weight="normal">H1</text>
<text transform="translate(1079.5,7) scale(0.85,1)" font-size="10.4" fill="#333" font-weight="normal">H4</text>
<text transform="translate(1108.8,7) scale(0.85,1)" font-size="10.4" fill="#333" font-weight="normal">D1</text>
<text transform="translate(1136,7) scale(0.85,1)" font-size="10.4" fill="#333" font-weight="normal">W1</text>
<text transform="translate(1162.5,7) scale(0.85,1)" font-size="10.4" fill="#333" font-weight="normal">MN</text>
<circle cx="1655.5" cy="0" r="4" fill="none" stroke="#2a5cd0" stroke-width="1.6"/>
<line x1="1652.5" y1="3" x2="1648" y2="7.5" stroke="#2a5cd0" stroke-width="2.2"/>
<ellipse cx="1679" cy="4.5" rx="6.5" ry="5" fill="#e8e8ee" stroke="#b0b0b8" stroke-width="1"/>
<polygon points="1675,8 1676,11.5 1679,9" fill="#b0b0b8"/>
<circle cx="1686.5" cy="0" r="8" fill="#dd2a10"/>
<path d="M1685,-2 h2.5 v6 M1684.5,4 h4.5" stroke="#fff" stroke-width="1.3" fill="none"/>
<defs><linearGradient id="gtab" x1="0" y1="0" x2="0" y2="1"><stop offset="0" stop-color="#f85050"/><stop offset="1" stop-color="#d42828"/></linearGradient><linearGradient id="gprice" x1="0" y1="0" x2="0" y2="1"><stop offset="0" stop-color="#d82828"/><stop offset="1" stop-color="#b00000"/></linearGradient><linearGradient id="gspin" x1="0" y1="0" x2="0" y2="1"><stop offset="0" stop-color="#f2f2f2"/><stop offset="0.45" stop-color="#e6e6e6"/><stop offset="0.5" stop-color="#d8d8d8"/><stop offset="1" stop-color="#d0d0d0"/></linearGradient></defs>
<g shape-rendering="crispEdges">
<rect x="0" y="63" width="107" height="33" fill="url(#gprice)"/>
<rect x="109" y="63" width="108" height="33" fill="url(#gprice)"/>
<rect x="0" y="95" width="107" height="1" fill="#a00000"/><rect x="106" y="63" width="1" height="33" fill="#a00000"/>
<rect x="109" y="95" width="108" height="1" fill="#a00000"/><rect x="216" y="39" width="1" height="57" fill="#a00000"/><rect x="109" y="63" width="1" height="33" fill="#a00000"/>
<rect x="0" y="39" width="50" height="24" fill="url(#gtab)"/>
<rect x="165" y="39" width="52" height="24" fill="url(#gtab)"/>
<rect x="0" y="39" width="50" height="1" fill="#a00000"/><rect x="49" y="39" width="1" height="25" fill="#a00000"/>
<rect x="165" y="39" width="52" height="1" fill="#a00000"/><rect x="165" y="39" width="1" height="25" fill="#a00000"/>
<rect x="2" y="62" width="44" height="1" fill="#900000"/><rect x="169" y="62" width="44" height="1" fill="#900000"/>
<rect x="2" y="63" width="44" height="1" fill="#f06060"/><rect x="169" y="63" width="44" height="1" fill="#f06060"/>
<rect x="52" y="39" width="111" height="22" fill="#fff"/>
<rect x="52.5" y="39.5" width="110" height="21" fill="none" stroke="#a8aab0" stroke-width="1"/>
<rect x="53" y="40" width="20" height="20" fill="url(#gspin)"/>
<rect x="142" y="40" width="20" height="20" fill="url(#gspin)"/>
<rect x="73" y="40" width="1" height="20" fill="#b8b8c0"/><rect x="141" y="40" width="1" height="20" fill="#b8b8c0"/>
</g>
<polygon points="60.5,48 65,48 62.75,50.5" fill="#4a5ac8"/>
<polygon points="150,50 154.5,50 152.25,47.5" fill="#4a5ac8"/>
<text x="114.5" y="54" font-size="12" fill="#000" text-anchor="start" font-weight="normal" textLength="22.9" lengthAdjust="spacingAndGlyphs">1.00</text>
<text x="10.4" y="55.4" font-size="12.6" fill="#fff" text-anchor="start" font-weight="normal" textLength="25.8" lengthAdjust="spacingAndGlyphs">SELL</text>
<text x="178.7" y="55.4" font-size="12.6" fill="#fff" text-anchor="start" font-weight="normal" textLength="23.2" lengthAdjust="spacingAndGlyphs">BUY</text>
<text x="14.6" y="90.8" font-size="12.2" fill="#fff" text-anchor="start" font-weight="bold" textLength="33.9" lengthAdjust="spacingAndGlyphs">34753</text>
<text x="124.7" y="90.8" font-size="12.2" fill="#fff" text-anchor="start" font-weight="bold" textLength="33.9" lengthAdjust="spacingAndGlyphs">34770</text>
<circle cx="55.6" cy="88" r="2.3" fill="#fff"/><circle cx="166.3" cy="88" r="2.3" fill="#fff"/>
<text x="59.6" y="91.2" font-size="34.5" fill="#fff" text-anchor="start" font-weight="normal" textLength="17.6" lengthAdjust="spacingAndGlyphs">5</text>
<text x="170.9" y="91.2" font-size="34.5" fill="#fff" text-anchor="start" font-weight="normal" textLength="17.6" lengthAdjust="spacingAndGlyphs">5</text>
</svg></body></html>
